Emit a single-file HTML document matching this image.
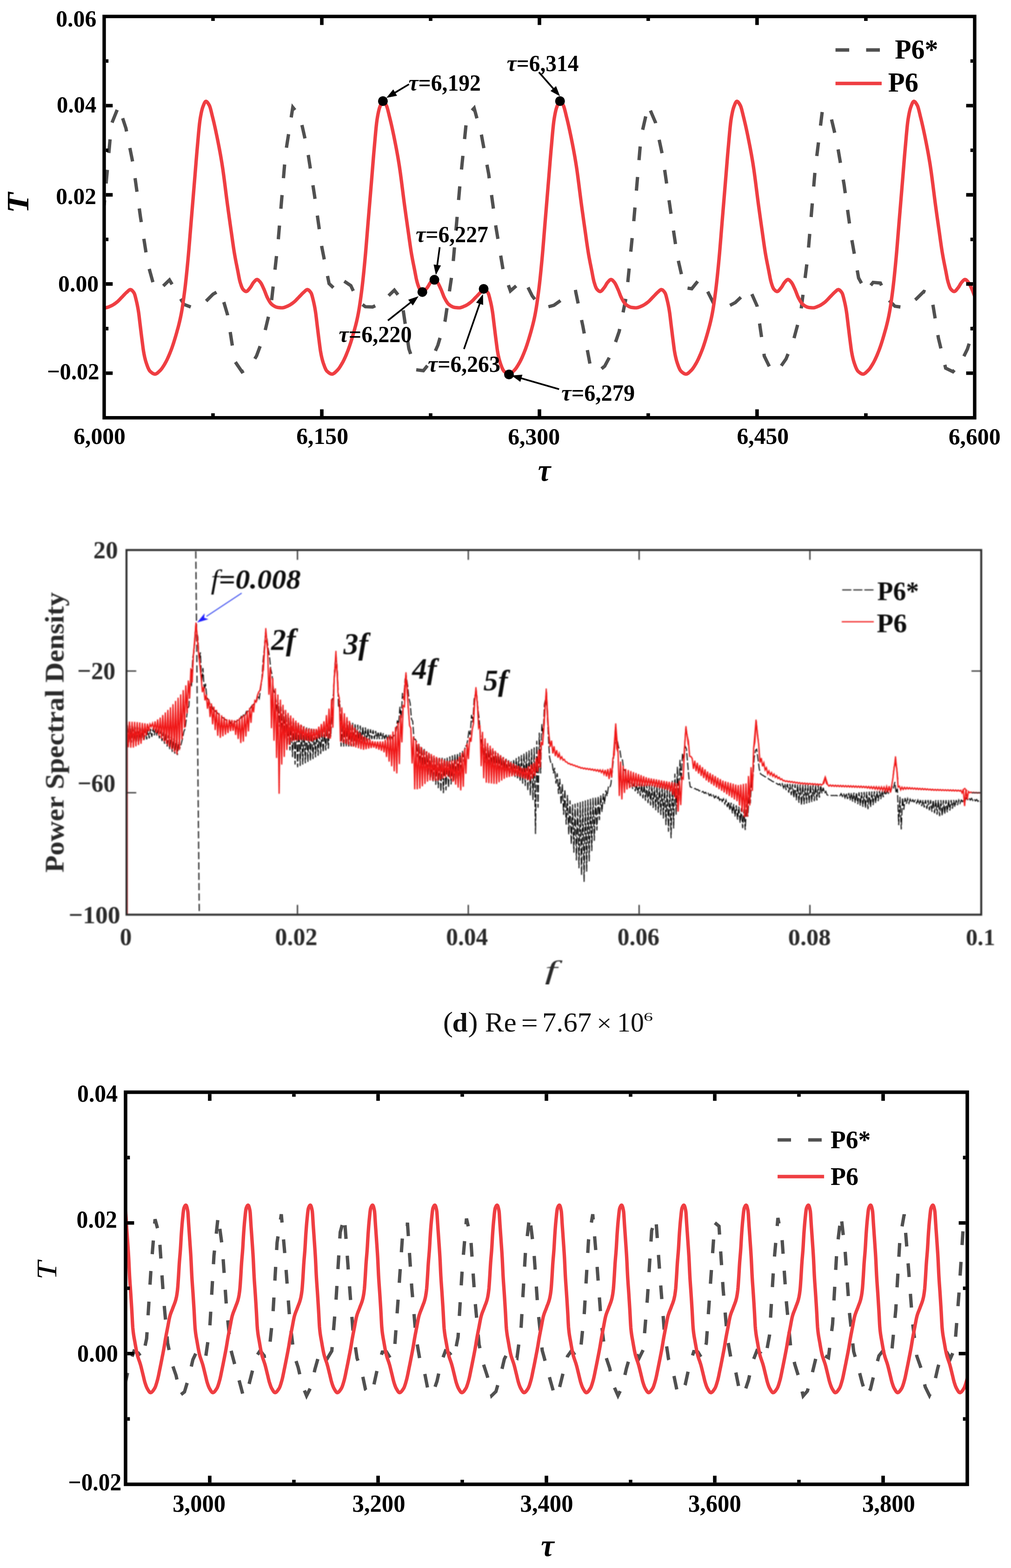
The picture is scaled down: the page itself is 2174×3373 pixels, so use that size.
<!DOCTYPE html>
<html><head><meta charset="utf-8"><style>
html,body{margin:0;padding:0;background:#fff;}
svg{display:block;}
text{font-family:'Liberation Serif','Times New Roman',serif;font-kerning:none;}
</style></head><body>
<svg width="2174" height="3373" viewBox="0 0 2174 3373">
<defs><filter id="blur1" x="0" y="0" width="1" height="1"><feGaussianBlur stdDeviation="0.9"/></filter></defs><rect width="2174" height="3373" fill="#fff"/>
<g id="p1">
<clipPath id="c1"><rect x="224" y="35.4" width="1871.9" height="863.3"/></clipPath>
<g clip-path="url(#c1)">
<path d="M224 441.5L239.6 267.1L255.2 228.2L270.8 276L286.4 353.9L302 466.4L317.6 566.5L333.2 623L348.8 617.3L364.4 602.2L380 628.4L395.6 654.9L411.2 660.7L426.8 658L442.4 648.5L458 632.9L473.6 623.9L489.2 676.7L504.8 776.9L520.4 799.7L536 791.5L551.6 765.7L567.2 723.5L582.8 657.9L598.4 515.6L614 330.1L629.6 230.9L645.2 250.7L660.8 320.1L676.4 421L692 531.3L707.6 610L723.2 624.8L738.8 604.1L754.4 614.4L770 647.9L785.6 659.8L801.2 660.3L816.8 653.1L832.4 639.2L848 624.2L863.6 644L879.2 750.1L894.8 795.5L910.4 797.4L926 777.8L941.6 742.6L957.2 689.6L972.8 583.6L988.4 404.1L1004 249.7L1019.6 232.6L1035.2 290.1L1050.8 374.2L1066.4 488.3L1082 581.9L1097.6 625.7L1113.2 612.1L1128.8 605L1144.4 636.4L1159.9 657L1175.5 660.9L1191.1 656.6L1206.7 645.6L1222.3 629.8L1237.9 627.2L1253.5 702.3L1269.1 785.5L1284.7 800.4L1300.3 787.6L1315.9 758.6L1331.5 712.8L1347.1 636.4L1362.7 477.5L1378.3 295.4L1393.9 226.7L1409.5 263.4L1425.1 336.6L1440.7 444.8L1456.3 550.6L1471.9 618.7L1487.5 621.1L1503.1 601.7L1518.7 621.2L1534.3 652.3L1549.9 660.4L1565.5 659.2L1581.1 650.8L1596.7 636.1L1612.3 622.7L1627.9 657.9L1643.5 766.1L1659.1 798L1674.7 794.5L1690.3 772L1705.9 733.2L1721.5 675.3L1737.1 551.2L1752.7 366.3L1768.3 238.3L1783.9 239.4L1799.5 305L1815.1 397.4L1830.7 510.1L1846.3 598.1L1861.9 626.6L1877.5 607.4L1893.1 608.8L1908.7 642.7L1924.3 658.7L1939.9 660.9L1955.5 655L1971.1 642.4L1986.7 627L2002.3 632.7L2017.9 727.3L2033.5 792.1L2049.1 799.6L2064.7 782.8L2080.3 750.8L2095.9 701.6L2095.9 701.6" fill="none" stroke="#505050" stroke-width="7.2" stroke-dasharray="29.5 36.4" stroke-dashoffset="19"/>
<path d="M224 662.1L225 662.1L226 662.1L227 662.1L228 661.9L229 661.7L230 661.5L231 661.2L232 660.9L233 660.5L234 660.1L235 659.7L236 659.2L237 658.8L238 658.4L239 657.9L240 657.5L241 657L242 656.4L243 655.8L244 655.2L245 654.6L246 653.9L247 653.2L248 652.5L249 651.8L250 651L251 650.2L252 649.4L253 648.6L254 647.6L255 646.7L256 645.6L257 644.6L258 643.6L259 642.5L260 641.4L261 640.4L262 639.3L263 638.3L264 637.3L265 636.2L266 635.2L267 634.1L268 633.1L269 632L270 631L271 630L272 629.1L273 628.3L274 627.3L275 626.4L276 625.4L277 624.6L278 623.8L279 623.3L280 623L281 623.1L282 623.4L283 624L284 624.8L285 625.8L286 627L287 628.3L288 629.7L289 631.6L290 634.5L291 638.1L292 642.1L293 646.1L294 650.3L295 654.9L296 659.9L297 665.4L298 671.6L299 679.1L300 687.4L301 695.9L302 704L303 712.2L304 720.4L305 728.3L306 736L307 743.9L308 751.4L309 757.8L310 763.1L311 767.8L312 772L313 775.8L314 779.2L315 782.2L316 785L317 787.7L318 790.3L319 792.7L320 794.7L321 796.5L322 797.9L323 798.9L324 799.8L325 800.6L326 801.5L327 802.2L328 802.9L329 803.5L330 803.9L331 804.3L332 804.6L333 804.7L334 804.7L335 804.4L336 804L337 803.5L338 802.8L339 802L340 801.1L341 800.2L342 799.2L343 798.3L344 797.3L345 796.3L346 795.2L347 794L348 792.7L349 791.3L350 789.8L351 788.3L352 786.7L353 785.1L354 783.4L355 781.6L356 779.9L357 778L358 776.1L359 774.1L360 772L361 769.8L362 767.6L363 765.3L364 762.9L365 760.5L366 758L367 755.5L368 752.9L369 750.2L370 747.4L371 744.6L372 741.6L373 738.5L374 735.4L375 732.2L376 728.9L377 725.6L378 722.2L379 718.7L380 715.2L381 711.6L382 708L383 704.4L384 700.6L385 696.6L386 692.5L387 688.2L388 683.6L389 678.8L390 673.7L391 668.1L392 662L393 655.6L394 648.8L395 641.6L396 634.2L397 626.6L398 618.6L399 610L400 600.9L401 591.4L402 581.6L403 571.4L404 561L405 550.1L406 538.6L407 526.7L408 514.4L409 502L410 489.6L411 477.4L412 465.4L413 453.3L414 441.3L415 429.2L416 417.1L417 405L418 393L419 380.9L420 368.5L421 356.1L422 343.7L423 331.7L424 320.2L425 309.1L426 297.7L427 286.5L428 276L429 266.5L430 258.6L431 252.4L432 246.8L433 241.8L434 237.4L435 233.6L436 230.5L437 227.9L438 225.3L439 222.9L440 220.9L441 219.3L442 218.3L443 218L444 218.3L445 219.1L446 220.1L447 221.5L448 223L449 224.6L450 226.4L451 228.6L452 231.6L453 235.1L454 239L455 243.1L456 247.3L457 251.4L458 255.4L459 259.5L460 263.7L461 268L462 272.5L463 277L464 281.6L465 286.4L466 291.2L467 296L468 301L469 306L470 311.1L471 316.2L472 321.5L473 326.9L474 332.4L475 338.1L476 344L477 350L478 356.3L479 362.9L480 369.9L481 377.2L482 384.7L483 392.5L484 400.3L485 408.3L486 416.2L487 424L488 431.8L489 439.3L490 446.6L491 453.9L492 461.1L493 468.2L494 475.3L495 482.4L496 489.4L497 496.4L498 503.5L499 510.6L500 517.8L501 524.8L502 531.7L503 538.2L504 544.4L505 550.2L506 555.7L507 561L508 566.1L509 571.1L510 576L511 581L512 586.1L513 591.5L514 596.7L515 601.6L516 605.7L517 609L518 612.3L519 615.2L520 617.8L521 620L522 621.6L523 622.8L524 623.8L525 624.8L526 625.6L527 626.3L528 626.7L529 627L530 626.9L531 626.5L532 625.9L533 624.9L534 623.8L535 622.6L536 621.4L537 620.1L538 618.9L539 617.5L540 616L541 614.3L542 612.5L543 610.8L544 609.2L545 607.8L546 606.7L547 605.6L548 604.5L549 603.4L550 602.5L551 601.8L552 601.4L553 601.3L554 601.6L555 602.2L556 603L557 604L558 605L559 606.2L560 607.4L561 608.7L562 610.4L563 612.3L564 614.3L565 616.5L566 618.7L567 620.9L568 623.1L569 625.5L570 628.1L571 630.7L572 633.4L573 635.9L574 638.3L575 640.4L576 642.3L577 644.1L578 645.9L579 647.6L580 649.3L581 650.8L582 652.2L583 653.4L584 654.4L585 655.2L586 656L587 656.7L588 657.4L589 658L590 658.6L591 659.2L592 659.7L593 660.1L594 660.5L595 660.8L596 661.1L597 661.3L598 661.4L599 661.6L600 661.7L601 661.8L602 661.9L603 662L604 662L605 662.1L606 662.1L607 662.1L608 662L609 661.9L610 661.6L611 661.4L612 661.1L613 660.7L614 660.3L615 659.9L616 659.5L617 659.1L618 658.6L619 658.2L620 657.8L621 657.3L622 656.8L623 656.2L624 655.6L625 655L626 654.3L627 653.6L628 652.9L629 652.2L630 651.5L631 650.7L632 649.9L633 649.1L634 648.2L635 647.2L636 646.3L637 645.2L638 644.2L639 643.1L640 642.1L641 641L642 640L643 638.9L644 637.9L645 636.9L646 635.8L647 634.8L648 633.7L649 632.6L650 631.6L651 630.6L652 629.7L653 628.8L654 627.9L655 627L656 626L657 625.1L658 624.3L659 623.6L660 623.2L661 623L662 623.1L663 623.6L664 624.3L665 625.1L666 626.2L667 627.5L668 628.8L669 630.3L670 632.6L671 635.8L672 639.6L673 643.7L674 647.7L675 652.1L676 656.8L677 662L678 667.8L679 674.4L680 682.3L681 690.8L682 699.2L683 707.3L684 715.5L685 723.6L686 731.4L687 739.2L688 747L689 754.1L690 760L691 765L692 769.5L693 773.6L694 777.2L695 780.4L696 783.3L697 786.1L698 788.8L699 791.3L700 793.5L701 795.5L702 797.1L703 798.3L704 799.2L705 800.1L706 801L707 801.8L708 802.5L709 803.1L710 803.7L711 804.1L712 804.4L713 804.6L714 804.7L715 804.6L716 804.3L717 803.8L718 803.2L719 802.5L720 801.7L721 800.8L722 799.8L723 798.8L724 797.9L725 796.9L726 795.9L727 794.7L728 793.5L729 792.2L730 790.7L731 789.2L732 787.7L733 786L734 784.4L735 782.7L736 781L737 779.2L738 777.3L739 775.3L740 773.3L741 771.1L742 769L743 766.7L744 764.4L745 762L746 759.5L747 757L748 754.5L749 751.9L750 749.1L751 746.3L752 743.4L753 740.4L754 737.3L755 734.1L756 730.9L757 727.6L758 724.2L759 720.8L760 717.3L761 713.8L762 710.2L763 706.6L764 702.9L765 699L766 695L767 690.8L768 686.4L769 681.7L770 676.8L771 671.5L772 665.7L773 659.5L774 652.9L775 646L776 638.7L777 631.2L778 623.4L779 615.2L780 606.4L781 597.2L782 587.5L783 577.5L784 567.2L785 556.7L786 545.6L787 533.9L788 521.8L789 509.5L790 497.1L791 484.7L792 472.6L793 460.6L794 448.5L795 436.5L796 424.4L797 412.3L798 400.2L799 388.1L800 376L801 363.5L802 351.1L803 338.9L804 327L805 315.8L806 304.5L807 293.2L808 282.2L809 272.1L810 263.2L811 256L812 250.1L813 244.7L814 240L815 235.8L816 232.3L817 229.5L818 226.9L819 224.3L820 222.1L821 220.2L822 218.8L823 218.1L824 218.1L825 218.6L826 219.4L827 220.6L828 222L829 223.6L830 225.3L831 227.2L832 229.7L833 232.9L834 236.6L835 240.6L836 244.7L837 248.9L838 253L839 257L840 261.2L841 265.4L842 269.8L843 274.3L844 278.9L845 283.5L846 288.3L847 293.1L848 298L849 303L850 308L851 313.1L852 318.3L853 323.6L854 329.1L855 334.7L856 340.4L857 346.4L858 352.5L859 358.9L860 365.7L861 372.8L862 380.2L863 387.8L864 395.6L865 403.5L866 411.4L867 419.3L868 427.1L869 434.8L870 442.3L871 449.5L872 456.8L873 463.9L874 471.1L875 478.1L876 485.2L877 492.2L878 499.2L879 506.3L880 513.5L881 520.6L882 527.6L883 534.3L884 540.7L885 546.8L886 552.4L887 557.8L888 563L889 568.1L890 573.1L891 578L892 583L893 588.2L894 593.6L895 598.8L896 603.3L897 607L898 610.4L899 613.5L900 616.3L901 618.8L902 620.7L903 622.1L904 623.2L905 624.2L906 625.1L907 625.9L908 626.5L909 626.9L910 627L911 626.8L912 626.3L913 625.5L914 624.5L915 623.4L916 622.1L917 620.9L918 619.6L919 618.4L920 616.9L921 615.3L922 613.6L923 611.8L924 610.2L925 608.6L926 607.3L927 606.2L928 605.1L929 604L930 603L931 602.2L932 601.6L933 601.3L934 601.4L935 601.8L936 602.5L937 603.3L938 604.4L939 605.5L940 606.7L941 607.9L942 609.4L943 611.1L944 613.1L945 615.2L946 617.4L947 619.6L948 621.8L949 624L950 626.5L951 629.1L952 631.8L953 634.4L954 636.9L955 639.2L956 641.2L957 643L958 644.9L959 646.6L960 648.3L961 649.9L962 651.4L963 652.7L964 653.8L965 654.8L966 655.5L967 656.3L968 657L969 657.7L970 658.3L971 658.9L972 659.4L973 659.9L974 660.3L975 660.7L976 661L977 661.2L978 661.3L979 661.5L980 661.6L981 661.7L982 661.8L983 661.9L984 662L985 662L986 662.1L987 662.1L988 662.1L989 662L990 661.8L991 661.5L992 661.3L993 660.9L994 660.6L995 660.2L996 659.7L997 659.3L998 658.9L999 658.5L1000 658L1001 657.6L1002 657.1L1003 656.5L1004 656L1005 655.4L1006 654.7L1007 654.1L1008 653.4L1009 652.6L1010 651.9L1011 651.2L1012 650.4L1013 649.6L1014 648.7L1015 647.8L1016 646.9L1017 645.9L1018 644.8L1019 643.8L1020 642.7L1021 641.6L1022 640.6L1023 639.5L1024 638.5L1025 637.5L1026 636.5L1027 635.4L1028 634.3L1029 633.3L1030 632.2L1031 631.2L1032 630.2L1033 629.3L1034 628.4L1035 627.5L1036 626.6L1037 625.6L1038 624.7L1039 624L1040 623.4L1041 623.1L1042 623L1043 623.3L1044 623.8L1045 624.6L1046 625.6L1047 626.7L1048 628L1049 629.4L1050 631.1L1051 633.8L1052 637.3L1053 641.2L1054 645.3L1055 649.4L1056 653.9L1057 658.8L1058 664.3L1059 670.3L1060 677.5L1061 685.7L1062 694.2L1063 702.4L1064 710.6L1065 718.7L1066 726.8L1067 734.5L1068 742.3L1069 749.9L1070 756.7L1071 762.1L1072 766.9L1073 771.2L1074 775.1L1075 778.5L1076 781.6L1077 784.4L1078 787.2L1079 789.8L1080 792.2L1081 794.3L1082 796.2L1083 797.6L1084 798.7L1085 799.6L1086 800.5L1087 801.3L1088 802.1L1089 802.7L1090 803.3L1091 803.8L1092 804.2L1093 804.5L1094 804.7L1095 804.7L1096 804.5L1097 804.1L1098 803.6L1099 803L1100 802.2L1101 801.3L1102 800.4L1103 799.4L1104 798.5L1105 797.5L1106 796.5L1107 795.4L1108 794.3L1109 793L1110 791.6L1111 790.1L1112 788.6L1113 787L1114 785.4L1115 783.7L1116 782L1117 780.2L1118 778.4L1119 776.5L1120 774.5L1121 772.4L1122 770.3L1123 768.1L1124 765.8L1125 763.4L1126 761L1127 758.5L1128 756L1129 753.4L1130 750.8L1131 748L1132 745.1L1133 742.2L1134 739.2L1135 736L1136 732.9L1137 729.6L1138 726.3L1139 722.9L1140 719.4L1141 715.9L1142 712.4L1143 708.8L1144 705.1L1145 701.3L1146 697.4L1147 693.3L1148 689.1L1149 684.6L1150 679.8L1151 674.7L1152 669.2L1153 663.3L1154 656.9L1155 650.2L1156 643.1L1157 635.7L1158 628.1L1159 620.2L1160 611.7L1161 602.8L1162 593.4L1163 583.6L1164 573.4L1165 563.1L1166 552.3L1167 541L1168 529.1L1169 516.9L1170 504.5L1171 492.1L1172 479.8L1173 467.8L1174 455.8L1175 443.7L1176 431.6L1177 419.5L1178 407.5L1179 395.4L1180 383.3L1181 371L1182 358.6L1183 346.2L1184 334.1L1185 322.5L1186 311.3L1187 300L1188 288.7L1189 278L1190 268.3L1191 260.1L1192 253.6L1193 247.9L1194 242.8L1195 238.2L1196 234.3L1197 231.1L1198 228.4L1199 225.8L1200 223.4L1201 221.2L1202 219.5L1203 218.4L1204 218L1205 218.2L1206 218.9L1207 219.9L1208 221.2L1209 222.7L1210 224.3L1211 226L1212 228.1L1213 231L1214 234.4L1215 238.2L1216 242.2L1217 246.4L1218 250.6L1219 254.6L1220 258.7L1221 262.9L1222 267.2L1223 271.6L1224 276.1L1225 280.7L1226 285.4L1227 290.2L1228 295.1L1229 300L1230 305L1231 310L1232 315.2L1233 320.4L1234 325.8L1235 331.3L1236 336.9L1237 342.8L1238 348.8L1239 355L1240 361.5L1241 368.5L1242 375.7L1243 383.2L1244 390.9L1245 398.8L1246 406.7L1247 414.6L1248 422.5L1249 430.2L1250 437.8L1251 445.2L1252 452.4L1253 459.6L1254 466.8L1255 473.9L1256 481L1257 488L1258 495L1259 502.1L1260 509.2L1261 516.4L1262 523.4L1263 530.3L1264 536.9L1265 543.2L1266 549.1L1267 554.6L1268 559.9L1269 565.1L1270 570.1L1271 575L1272 580L1273 585L1274 590.4L1275 595.7L1276 600.7L1277 604.9L1278 608.4L1279 611.6L1280 614.7L1281 617.4L1282 619.6L1283 621.4L1284 622.6L1285 623.6L1286 624.6L1287 625.5L1288 626.2L1289 626.7L1290 627L1291 627L1292 626.6L1293 626L1294 625.1L1295 624.1L1296 622.9L1297 621.6L1298 620.3L1299 619.1L1300 617.8L1301 616.3L1302 614.6L1303 612.9L1304 611.2L1305 609.5L1306 608.1L1307 606.9L1308 605.8L1309 604.7L1310 603.6L1311 602.7L1312 601.9L1313 601.5L1314 601.3L1315 601.5L1316 602L1317 602.8L1318 603.7L1319 604.8L1320 606L1321 607.1L1322 608.4L1323 610.1L1324 611.9L1325 613.9L1326 616.1L1327 618.3L1328 620.5L1329 622.7L1330 625L1331 627.5L1332 630.2L1333 632.8L1334 635.4L1335 637.8L1336 640L1337 641.9L1338 643.8L1339 645.6L1340 647.3L1341 649L1342 650.5L1343 651.9L1344 653.1L1345 654.2L1346 655.1L1347 655.8L1348 656.6L1349 657.3L1350 657.9L1351 658.5L1352 659.1L1353 659.6L1354 660L1355 660.4L1356 660.8L1357 661.1L1358 661.3L1359 661.4L1360 661.5L1361 661.7L1362 661.8L1363 661.9L1364 662L1365 662L1366 662.1L1367 662.1L1368 662.1L1369 662L1370 661.9L1371 661.7L1372 661.4L1373 661.1L1374 660.8L1375 660.4L1376 660L1377 659.6L1378 659.1L1379 658.7L1380 658.3L1381 657.9L1382 657.4L1383 656.9L1384 656.3L1385 655.7L1386 655.1L1387 654.5L1388 653.8L1389 653.1L1390 652.4L1391 651.6L1392 650.9L1393 650.1L1394 649.3L1395 648.4L1396 647.4L1397 646.5L1398 645.4L1399 644.4L1400 643.4L1401 642.3L1402 641.2L1403 640.2L1404 639.1L1405 638.1L1406 637.1L1407 636L1408 635L1409 633.9L1410 632.8L1411 631.8L1412 630.8L1413 629.8L1414 628.9L1415 628.1L1416 627.1L1417 626.2L1418 625.3L1419 624.4L1420 623.7L1421 623.2L1422 623L1423 623.1L1424 623.5L1425 624.1L1426 625L1427 626L1428 627.2L1429 628.6L1430 630L1431 632.1L1432 635.1L1433 638.8L1434 642.9L1435 646.9L1436 651.2L1437 655.8L1438 661L1439 666.6L1440 673L1441 680.7L1442 689.1L1443 697.6L1444 705.7L1445 713.8L1446 722L1447 729.9L1448 737.6L1449 745.5L1450 752.8L1451 759L1452 764L1453 768.6L1454 772.8L1455 776.5L1456 779.8L1457 782.7L1458 785.6L1459 788.3L1460 790.8L1461 793.1L1462 795.1L1463 796.8L1464 798.1L1465 799.1L1466 800L1467 800.8L1468 801.6L1469 802.3L1470 803L1471 803.6L1472 804L1473 804.4L1474 804.6L1475 804.7L1476 804.6L1477 804.4L1478 803.9L1479 803.4L1480 802.7L1481 801.8L1482 801L1483 800L1484 799L1485 798.1L1486 797.1L1487 796.1L1488 795L1489 793.8L1490 792.4L1491 791L1492 789.5L1493 788L1494 786.4L1495 784.7L1496 783L1497 781.3L1498 779.5L1499 777.7L1500 775.7L1501 773.7L1502 771.6L1503 769.4L1504 767.1L1505 764.8L1506 762.5L1507 760L1508 757.5L1509 755L1510 752.4L1511 749.7L1512 746.9L1513 744L1514 741L1515 737.9L1516 734.8L1517 731.6L1518 728.3L1519 724.9L1520 721.5L1521 718L1522 714.5L1523 710.9L1524 707.3L1525 703.6L1526 699.8L1527 695.8L1528 691.7L1529 687.3L1530 682.7L1531 677.8L1532 672.6L1533 666.9L1534 660.8L1535 654.2L1536 647.4L1537 640.2L1538 632.7L1539 625L1540 616.9L1541 608.2L1542 599.1L1543 589.5L1544 579.5L1545 569.3L1546 558.8L1547 547.9L1548 536.3L1549 524.3L1550 512L1551 499.5L1552 487.2L1553 475L1554 463L1555 450.9L1556 438.9L1557 426.8L1558 414.7L1559 402.6L1560 390.5L1561 378.4L1562 366L1563 353.6L1564 341.3L1565 329.3L1566 318L1567 306.8L1568 295.4L1569 284.4L1570 274L1571 264.8L1572 257.3L1573 251.2L1574 245.8L1575 240.9L1576 236.6L1577 233L1578 230L1579 227.4L1580 224.8L1581 222.5L1582 220.5L1583 219L1584 218.2L1585 218L1586 218.4L1587 219.2L1588 220.4L1589 221.7L1590 223.3L1591 225L1592 226.8L1593 229.2L1594 232.3L1595 235.8L1596 239.8L1597 243.9L1598 248.1L1599 252.2L1600 256.2L1601 260.3L1602 264.6L1603 268.9L1604 273.4L1605 277.9L1606 282.6L1607 287.3L1608 292.1L1609 297L1610 302L1611 307L1612 312.1L1613 317.3L1614 322.6L1615 328L1616 333.5L1617 339.3L1618 345.1L1619 351.2L1620 357.6L1621 364.3L1622 371.3L1623 378.7L1624 386.3L1625 394L1626 401.9L1627 409.8L1628 417.8L1629 425.6L1630 433.3L1631 440.8L1632 448.1L1633 455.3L1634 462.5L1635 469.6L1636 476.7L1637 483.8L1638 490.8L1639 497.8L1640 504.9L1641 512.1L1642 519.2L1643 526.2L1644 533L1645 539.5L1646 545.6L1647 551.3L1648 556.8L1649 562L1650 567.1L1651 572.1L1652 577L1653 582L1654 587.2L1655 592.5L1656 597.8L1657 602.5L1658 606.3L1659 609.7L1660 612.9L1661 615.8L1662 618.3L1663 620.4L1664 621.9L1665 623L1666 624L1667 625L1668 625.8L1669 626.4L1670 626.8L1671 627L1672 626.9L1673 626.4L1674 625.7L1675 624.7L1676 623.6L1677 622.4L1678 621.1L1679 619.8L1680 618.6L1681 617.2L1682 615.7L1683 613.9L1684 612.2L1685 610.5L1686 608.9L1687 607.6L1688 606.5L1689 605.3L1690 604.2L1691 603.2L1692 602.4L1693 601.7L1694 601.3L1695 601.3L1696 601.7L1697 602.3L1698 603.2L1699 604.2L1700 605.3L1701 606.4L1702 607.6L1703 609.1L1704 610.8L1705 612.7L1706 614.8L1707 616.9L1708 619.2L1709 621.4L1710 623.6L1711 626L1712 628.6L1713 631.2L1714 633.9L1715 636.4L1716 638.7L1717 640.8L1718 642.7L1719 644.5L1720 646.3L1721 648L1722 649.6L1723 651.1L1724 652.4L1725 653.6L1726 654.6L1727 655.4L1728 656.1L1729 656.8L1730 657.5L1731 658.2L1732 658.7L1733 659.3L1734 659.8L1735 660.2L1736 660.6L1737 660.9L1738 661.1L1739 661.3L1740 661.5L1741 661.6L1742 661.7L1743 661.8L1744 661.9L1745 662L1746 662L1747 662.1L1748 662.1L1749 662.1L1750 662L1751 661.8L1752 661.6L1753 661.3L1754 661L1755 660.6L1756 660.2L1757 659.8L1758 659.4L1759 659L1760 658.5L1761 658.1L1762 657.7L1763 657.2L1764 656.6L1765 656.1L1766 655.5L1767 654.8L1768 654.2L1769 653.5L1770 652.8L1771 652.1L1772 651.3L1773 650.6L1774 649.8L1775 648.9L1776 648L1777 647L1778 646.1L1779 645L1780 644L1781 642.9L1782 641.9L1783 640.8L1784 639.7L1785 638.7L1786 637.7L1787 636.7L1788 635.6L1789 634.5L1790 633.5L1791 632.4L1792 631.4L1793 630.4L1794 629.5L1795 628.6L1796 627.7L1797 626.8L1798 625.8L1799 624.9L1800 624.1L1801 623.5L1802 623.1L1803 623L1804 623.2L1805 623.7L1806 624.4L1807 625.4L1808 626.5L1809 627.7L1810 629.1L1811 630.7L1812 633.2L1813 636.6L1814 640.4L1815 644.5L1816 648.6L1817 653L1818 657.8L1819 663.1L1820 669L1821 675.9L1822 684L1823 692.5L1824 700.8L1825 708.9L1826 717.1L1827 725.2L1828 732.9L1829 740.8L1830 748.5L1831 755.4L1832 761.1L1833 765.9L1834 770.4L1835 774.3L1836 777.9L1837 781L1838 783.9L1839 786.7L1840 789.3L1841 791.7L1842 793.9L1843 795.8L1844 797.4L1845 798.5L1846 799.4L1847 800.3L1848 801.1L1849 801.9L1850 802.6L1851 803.2L1852 803.8L1853 804.2L1854 804.5L1855 804.7L1856 804.7L1857 804.6L1858 804.2L1859 803.7L1860 803.1L1861 802.3L1862 801.5L1863 800.6L1864 799.6L1865 798.7L1866 797.7L1867 796.7L1868 795.7L1869 794.5L1870 793.2L1871 791.9L1872 790.4L1873 788.9L1874 787.3L1875 785.7L1876 784L1877 782.3L1878 780.6L1879 778.8L1880 776.9L1881 774.9L1882 772.8L1883 770.7L1884 768.5L1885 766.2L1886 763.9L1887 761.5L1888 759L1889 756.5L1890 754L1891 751.3L1892 748.6L1893 745.7L1894 742.8L1895 739.8L1896 736.7L1897 733.5L1898 730.2L1899 726.9L1900 723.5L1901 720.1L1902 716.6L1903 713.1L1904 709.5L1905 705.9L1906 702.1L1907 698.2L1908 694.2L1909 689.9L1910 685.5L1911 680.8L1912 675.8L1913 670.4L1914 664.5L1915 658.2L1916 651.5L1917 644.5L1918 637.2L1919 629.7L1920 621.8L1921 613.5L1922 604.6L1923 595.3L1924 585.5L1925 575.5L1926 565.1L1927 554.5L1928 543.3L1929 531.5L1930 519.4L1931 507L1932 494.6L1933 482.3L1934 470.2L1935 458.2L1936 446.1L1937 434L1938 422L1939 409.9L1940 397.8L1941 385.7L1942 373.5L1943 361.1L1944 348.6L1945 336.4L1946 324.7L1947 313.6L1948 302.2L1949 290.9L1950 280.1L1951 270.2L1952 261.6L1953 254.8L1954 249L1955 243.7L1956 239.1L1957 235.1L1958 231.7L1959 229L1960 226.3L1961 223.9L1962 221.6L1963 219.8L1964 218.6L1965 218L1966 218.2L1967 218.7L1968 219.7L1969 220.9L1970 222.3L1971 224L1972 225.7L1973 227.6L1974 230.3L1975 233.6L1976 237.4L1977 241.4L1978 245.6L1979 249.8L1980 253.8L1981 257.8L1982 262L1983 266.3L1984 270.7L1985 275.2L1986 279.8L1987 284.5L1988 289.2L1989 294.1L1990 299L1991 304L1992 309L1993 314.2L1994 319.4L1995 324.7L1996 330.2L1997 335.8L1998 341.6L1999 347.6L2000 353.7L2001 360.2L2002 367.1L2003 374.2L2004 381.7L2005 389.4L2006 397.2L2007 405.1L2008 413L2009 420.9L2010 428.7L2011 436.3L2012 443.7L2013 451L2014 458.2L2015 465.4L2016 472.5L2017 479.6L2018 486.6L2019 493.6L2020 500.6L2021 507.8L2022 514.9L2023 522L2024 529L2025 535.6L2026 542L2027 547.9L2028 553.5L2029 558.9L2030 564L2031 569.1L2032 574L2033 579L2034 584L2035 589.3L2036 594.7L2037 599.7L2038 604.1L2039 607.7L2040 611L2041 614.1L2042 616.9L2043 619.2L2044 621.1L2045 622.3L2046 623.4L2047 624.4L2048 625.3L2049 626L2050 626.6L2051 626.9L2052 627L2053 626.7L2054 626.2L2055 625.3L2056 624.3L2057 623.1L2058 621.9L2059 620.6L2060 619.4L2061 618.1L2062 616.6L2063 615L2064 613.2L2065 611.5L2066 609.8L2067 608.4L2068 607.1L2069 606L2070 604.9L2071 603.8L2072 602.9L2073 602.1L2074 601.5L2075 601.3L2076 601.4L2077 601.9L2078 602.6L2079 603.5L2080 604.6L2081 605.7L2082 606.9L2083 608.2L2084 609.7L2085 611.5L2086 613.5L2087 615.6L2088 617.8L2089 620L2090 622.2L2091 624.5L2092 627L2093 629.7L2094 632.3L2095 634.9L2095.9 637.1" fill="none" stroke="#ef3e42" stroke-width="7.4" stroke-linejoin="round"/>
</g>
<rect x="224" y="35.4" width="1871.9" height="863.3" fill="none" stroke="#000" stroke-width="7.4"/>
<path d="M227.7 802.8h14.6M2092.2 802.8h-14.6M227.7 706.9h5.5M2092.2 706.9h-5.5M227.7 610.9h14.6M2092.2 610.9h-14.6M227.7 515h5.5M2092.2 515h-5.5M227.7 419.1h14.6M2092.2 419.1h-14.6M227.7 323.2h5.5M2092.2 323.2h-5.5M227.7 227.2h14.6M2092.2 227.2h-14.6M227.7 131.3h5.5M2092.2 131.3h-5.5M458 895v-6M458 39.1v6M692 895v-14.6M692 39.1v14.6M926 895v-6M926 39.1v6M1160 895v-14.6M1160 39.1v14.6M1393.9 895v-6M1393.9 39.1v6M1627.9 895v-14.6M1627.9 39.1v14.6M1861.9 895v-6M1861.9 39.1v6" stroke="#000" stroke-width="7.6" fill="none"/>
<text transform="translate(120.2 56.8) scale(0.98 1)" font-size="50.83" fill="#000" ><tspan x="0" font-weight="bold" font-style="normal">0.06</tspan></text>
<text transform="translate(122.04 242.3) scale(0.95 1)" font-size="51.27" fill="#000" ><tspan x="0" font-weight="bold" font-style="normal">0.04</tspan></text>
<text transform="translate(120.21 439) scale(0.97 1)" font-size="51.13" fill="#000" ><tspan x="0" font-weight="bold" font-style="normal">0.02</tspan></text>
<text transform="translate(125.11 627.2) scale(0.98 1)" font-size="50.83" fill="#000" ><tspan x="0" font-weight="bold" font-style="normal">0.00</tspan></text>
<text transform="translate(100.93 816.3) scale(0.95 1)" font-size="51.13" fill="#000" ><tspan x="0" font-weight="bold" font-style="normal">−0.02</tspan></text>
<text transform="translate(158.21 955.31) scale(0.98 1)" font-size="50.68" fill="#000" ><tspan x="0" font-weight="bold" font-style="normal">6,000</tspan></text>
<text transform="translate(637.3 955.31) scale(0.98 1)" font-size="50.68" fill="#000" ><tspan x="0" font-weight="bold" font-style="normal">6,150</tspan></text>
<text transform="translate(1092.3 955.51) scale(0.98 1)" font-size="50.68" fill="#000" ><tspan x="0" font-weight="bold" font-style="normal">6,300</tspan></text>
<text transform="translate(1584.4 955.31) scale(0.98 1)" font-size="50.68" fill="#000" ><tspan x="0" font-weight="bold" font-style="normal">6,450</tspan></text>
<text transform="translate(2039.8 955.51) scale(0.98 1)" font-size="50.68" fill="#000" ><tspan x="0" font-weight="bold" font-style="normal">6,600</tspan></text>
<text transform="translate(1156.72 1034.24) scale(0.92 1)" font-size="67.63" fill="#000" ><tspan x="0" font-weight="bold" font-style="italic">τ</tspan></text>
<text transform="translate(61 458.82) rotate(-90) scale(1.09 1)" font-size="66.74" fill="#000" ><tspan x="0" font-weight="bold" font-style="italic">T</tspan></text>
<path d="M1796.6 107.4h29.5M1862.5 107.4h29.5" stroke="#505050" stroke-width="7.5"/>
<path d="M1796.6 179.5H1895.9" stroke="#ef3e42" stroke-width="7.3"/>
<text transform="translate(1924.31 125.65) scale(0.97 1)" font-size="59.56" fill="#000" ><tspan x="0" font-weight="bold" font-style="normal">P6*</tspan></text>
<text transform="translate(1909.79 197.4) scale(1 1)" font-size="58.65" fill="#000" ><tspan x="0" font-weight="bold" font-style="normal">P6</tspan></text>
<circle cx="823.4" cy="217.5" r="10.5" fill="#000"/>
<circle cx="1204.2" cy="217.5" r="10.5" fill="#000"/>
<circle cx="908.2" cy="628.2" r="10.5" fill="#000"/>
<circle cx="934.1" cy="601.8" r="10.5" fill="#000"/>
<circle cx="1040" cy="621.4" r="10.5" fill="#000"/>
<circle cx="1094.5" cy="805.5" r="10.5" fill="#000"/>
<path d="M879.5 181.2L848 200.1" stroke="#000" stroke-width="3.6"/>
<path d="M830.8 210.4L845.6 192.2L853.8 205.9Z" fill="#000"/>
<path d="M1158.8 155.2L1191 192" stroke="#000" stroke-width="3.6"/>
<path d="M1204.2 207.1L1183.7 195.8L1195.7 185.3Z" fill="#000"/>
<path d="M945.5 531.8L940 572" stroke="#000" stroke-width="3.6"/>
<path d="M937.3 591.8L932.4 568.9L948.2 571.1Z" fill="#000"/>
<path d="M834.1 689.5L884.3 649.7" stroke="#000" stroke-width="3.6"/>
<path d="M900 637.3L887.7 657.2L877.8 644.7Z" fill="#000"/>
<path d="M997.7 750.9L1032.1 651.6" stroke="#000" stroke-width="3.6"/>
<path d="M1038.6 632.7L1039 656.1L1023.8 650.9Z" fill="#000"/>
<path d="M1202.3 837.3L1119.2 813.3" stroke="#000" stroke-width="3.6"/>
<path d="M1100 807.7L1123.4 806.1L1118.9 821.5Z" fill="#000"/>
<text transform="translate(878.42 195.3) scale(0.93 1)" font-size="51.2" fill="#000" ><tspan x="0" font-weight="bold" font-style="italic">τ</tspan><tspan x="22.73" font-weight="bold" font-style="normal">=6,192</tspan></text>
<text transform="translate(1089.83 152.5) scale(0.93 1)" font-size="50.9" fill="#000" ><tspan x="0" font-weight="bold" font-style="italic">τ</tspan><tspan x="22.59" font-weight="bold" font-style="normal">=6,314</tspan></text>
<text transform="translate(893.92 520.6) scale(0.94 1)" font-size="50.9" fill="#000" ><tspan x="0" font-weight="bold" font-style="italic">τ</tspan><tspan x="22.59" font-weight="bold" font-style="normal">=6,227</tspan></text>
<text transform="translate(728.41 735.61) scale(0.95 1)" font-size="50.68" fill="#000" ><tspan x="0" font-weight="bold" font-style="italic">τ</tspan><tspan x="22.49" font-weight="bold" font-style="normal">=6,220</tspan></text>
<text transform="translate(920.02 800) scale(0.93 1)" font-size="51.35" fill="#000" ><tspan x="0" font-weight="bold" font-style="italic">τ</tspan><tspan x="22.79" font-weight="bold" font-style="normal">=6,263</tspan></text>
<text transform="translate(1207.31 861.7) scale(0.95 1)" font-size="50.9" fill="#000" ><tspan x="0" font-weight="bold" font-style="italic">τ</tspan><tspan x="22.59" font-weight="bold" font-style="normal">=6,279</tspan></text>
</g>
<g id="p2" filter="url(#blur1)">
<clipPath id="c2"><rect x="272" y="1183.2" width="1838" height="784.4"/></clipPath>
<path d="M421 1186L428.5 1966" stroke="#333" stroke-width="2.8" stroke-dasharray="15.5 6.8"/>
<g clip-path="url(#c2)">
<path d="M274.2 1560.3L276.9 1599L279.7 1561.4L282.4 1597.8L285.2 1562.5L287.9 1596.6L290.7 1563.6L293.4 1595.4L296.2 1564.7L298.9 1594.2L301.7 1565.8L304.4 1593L307.2 1566.9L309.9 1591.8L312.7 1568L315.4 1590.6L318.2 1569L320.9 1588.3L323.7 1567.7L326.4 1585L329.2 1566.4L331.9 1581.8L334.7 1565.1L337.4 1582.6L340.2 1568.1L342.9 1588.4L345.7 1571.4L348.4 1594.2L351.2 1574.7L353.9 1600L356.7 1578L359.4 1605.8L362.2 1581.5L364.9 1611.6L367.7 1585.1L370.4 1617.4L373.2 1588.8L375.9 1621.2L378.7 1592.5L381.4 1624.2L384.2 1596.1L386.9 1609.9L389.7 1599.8L392.4 1588.9L395.2 1574L397.9 1567.8L400.7 1546.5L403.4 1525.3L406.2 1519L408.9 1470.1L411.7 1476.9L414.4 1414.8L417.2 1402.1L419.9 1359.6L422.7 1359.3L425.4 1369.8L428.2 1420.1L430.9 1403.4L433.7 1467.8L436.4 1437.1L439.2 1486.5L441.9 1470.7L444.7 1500.6L447.4 1504.4L450.2 1509.9L452.9 1522.4L455.7 1518.9L458.4 1526.8L461.2 1525.8L463.9 1531.2L466.7 1532.6L469.4 1535.6L472.2 1538.9L474.9 1540L477.7 1543L480.4 1544.4L483.2 1547.2L485.9 1548.8L488.7 1550.3L491.4 1553.2L494.2 1551.1L496.9 1557.6L499.7 1551.9L502.4 1557.5L505.2 1552.7L507.9 1552L510.7 1550.5L513.5 1546.5L516.2 1546.7L519 1541L521.7 1542.9L524.5 1535.5L527.2 1538.4L530 1530L532.7 1531.3L535.5 1524.5L538.2 1524.1L541 1519L543.7 1517L546.5 1513.5L549.2 1507.4L552 1508L554.7 1496L557.5 1502.5L560.2 1482.7L563 1462.8L565.7 1420.6L568.5 1393.5L571.2 1358.4L574 1372.6L576.7 1395.8L579.5 1412.2L582.2 1438.9L585 1451.7L587.7 1482L590.5 1491.3L593.2 1504.5L596 1530.9L598.7 1512.3L601.5 1563.3L604.2 1520.1L607 1576L609.7 1527.9L612.5 1588.7L615.2 1535.7L618 1601.4L620.7 1543.5L623.5 1614.1L626.2 1551.1L629 1628.6L631.7 1553.3L634.5 1644.6L637.2 1555.6L640 1650.5L642.7 1557.9L645.5 1647.6L648.2 1560.1L651 1644.8L653.7 1562.4L656.5 1642L659.2 1564.7L662 1639.1L664.7 1566.2L667.5 1636.3L670.2 1567.5L673 1633L675.7 1568.9L678.5 1629.3L681.2 1570.3L684 1625.6L686.7 1571.7L689.5 1621.9L692.2 1572.9L695 1618.2L697.7 1568.9L700.5 1614.4L703.2 1564.9L706 1610.7L708.7 1560.9L711.5 1584.1L714.2 1507.1L717 1493.3L719.7 1437.8L722.5 1408.1L725.2 1440.4L728 1522.1L730.7 1507.5L733.5 1606L736.2 1559.2L739 1606L741.7 1555.4L744.5 1606L747.2 1551.6L750 1606L752.7 1552.7L755.5 1606L758.2 1554.7L761 1605.2L763.7 1556.7L766.5 1603.1L769.2 1558.7L772 1600.9L774.7 1560.8L777.5 1598.8L780.2 1562.8L783 1596.7L785.7 1564.8L788.5 1594.5L791.2 1566.8L794 1592.4L796.7 1568.8L799.5 1590.2L802.2 1570.7L805 1590L807.7 1572.3L810.5 1590L813.2 1573.9L816 1590L818.7 1575.6L821.5 1590L824.2 1577.2L827 1590L829.7 1578.8L832.5 1590L835.2 1580.5L838 1590L840.7 1582.1L843.5 1590L846.2 1583.8L849 1579.5L851.7 1572.5L854.5 1549.9L857.2 1559.1L860 1520.3L862.7 1545.6L865.5 1490.7L868.2 1504L871 1461L873.7 1455.8L876.5 1474.3L879.2 1501.1L882 1513L884.7 1546.4L887.5 1551.7L890.2 1590.2L893 1590.4L895.7 1595.4L898.5 1629.1L901.2 1600.7L904 1645.2L906.7 1605.9L909.5 1652.4L912.2 1611.1L915 1659.5L917.7 1616.4L920.5 1666.7L923.2 1621.6L926 1673.9L928.7 1626.9L931.5 1681.1L934.2 1630L937 1688.3L939.7 1630L942.5 1695.5L945.2 1630L948 1702.7L950.7 1630L953.5 1706.3L956.2 1630L959 1700.1L961.7 1629.3L964.5 1693.8L967.2 1627.2L970 1687.5L972.7 1625.1L975.5 1681.2L978.2 1623L981 1674.9L983.7 1620.9L986.5 1668.6L989.2 1618.8L992 1662.3L994.7 1615.5L997.5 1638.9L1000.2 1604L1003 1605.2L1005.7 1592.5L1008.5 1571.5L1011.2 1581L1014 1537.9L1016.7 1554.2L1019.5 1504.2L1022.2 1493.3L1025 1494.9L1027.7 1524.5L1030.5 1548L1033.2 1581.4L1036 1601L1038.7 1602.2L1041.5 1640.6L1044.2 1605.5L1047 1642.9L1049.7 1608.9L1052.5 1645.2L1055.2 1612.2L1058 1647.5L1060.7 1615.5L1063.5 1649.8L1066.2 1618.8L1069 1652.1L1071.7 1622.1L1074.5 1654.4L1077.2 1625.5L1080 1656.6L1082.7 1628.8L1085.5 1658.9L1088.2 1632.1L1091 1661.2L1093.7 1635.4L1096.5 1663.5L1099.2 1637.3L1102 1666.7L1104.7 1634L1107.5 1671.4L1110.2 1630.7L1113 1676.2L1115.7 1627.4L1118.5 1680.9L1121.2 1624.2L1124 1685.6L1126.7 1620.9L1129.5 1690.8L1132.2 1617.6L1135 1700.9L1137.7 1614.3L1140.5 1710.9L1143.2 1611.1L1146 1720.9L1148.7 1607.8L1151.5 1793.9L1154.2 1593.6L1157 1737.4L1159.7 1576L1162.5 1663.9L1165.2 1557.5L1168 1582.9L1170.7 1515.1L1173.5 1501.9L1176.2 1520.5L1179 1581.5L1181.7 1628.5L1184.5 1641L1187.2 1640.2L1190 1663.4L1192.7 1651.8L1195.5 1685.7L1198.2 1663.5L1201 1708L1203.7 1675.2L1206.5 1730.4L1209.2 1686.9L1212 1752.7L1214.7 1698.5L1217.5 1774L1220.2 1710.2L1223 1795L1225.7 1721.9L1228.5 1816.1L1231.2 1730.6L1234 1834.1L1236.7 1728.8L1239.5 1850.9L1242.2 1727.1L1245 1867.8L1247.7 1725.3L1250.5 1882.6L1253.2 1723.5L1256 1896.9L1258.7 1721.7L1261.5 1875L1264.2 1720L1267 1852.9L1269.7 1718.2L1272.5 1830.7L1275.2 1716.4L1278 1808.6L1280.7 1714.6L1283.5 1786.4L1286.2 1712.8L1289 1764.2L1291.7 1711.1L1294.5 1746.3L1297.2 1707.2L1300 1729.3L1302.7 1700.3L1305.5 1712.4L1308.2 1693.3L1311 1695.4L1313.7 1686.4L1316.5 1660L1319.2 1630.9L1322 1601.7L1324.7 1583.1L1327.5 1593.1L1330.2 1607.8L1333 1613.9L1335.7 1632.4L1338.5 1634.8L1341.2 1657L1344 1655.7L1346.7 1681.7L1349.5 1676.5L1352.2 1683.5L1355 1691.8L1357.7 1684L1360.5 1696.9L1363.2 1684.5L1366 1702.1L1368.7 1685L1371.5 1707.2L1374.2 1685.6L1377 1712.3L1379.7 1686.1L1382.5 1717.4L1385.2 1686.6L1388 1722.5L1390.7 1687.1L1393.5 1727.6L1396.2 1687.6L1399 1732.8L1401.7 1688.2L1404.5 1737.9L1407.2 1688.7L1410 1743L1412.7 1689.2L1415.5 1748.1L1418.2 1689.8L1421 1753.2L1423.7 1690.3L1426.5 1760.7L1429.2 1690.8L1432 1774.9L1434.7 1691.4L1437.5 1789.1L1440.2 1691.9L1443 1803.3L1445.7 1679.3L1448.5 1782.1L1451.2 1664.4L1454 1752.5L1456.7 1649.5L1459.5 1723L1462.2 1634.6L1465 1680.4L1467.7 1619.8L1470.5 1636.4L1473.2 1604.9L1476 1610.9L1478.7 1642.6L1481.5 1674.2L1484.2 1692.4L1487 1693.8L1489.7 1694.4L1492.5 1696.3L1495.2 1696.4L1498 1698.9L1500.7 1698.4L1503.5 1701.4L1506.2 1700.4L1509 1703.9L1511.7 1702.4L1514.5 1706.4L1517.2 1704.3L1520 1708.9L1522.7 1706.3L1525.5 1711.5L1528.2 1708.3L1531 1714L1533.7 1710.3L1536.5 1716.5L1539.2 1712.3L1542 1719L1544.7 1714.3L1547.5 1721.5L1550.2 1716.3L1553 1724.1L1555.7 1718.4L1558.5 1729.2L1561.2 1721.2L1564 1736L1566.7 1724L1569.5 1742.8L1572.2 1726.8L1575 1749.6L1577.7 1729.6L1580.5 1756.3L1583.2 1732.4L1586 1763.1L1588.7 1735.2L1591.5 1769.9L1594.2 1738L1597 1781.4L1599.7 1740.8L1602.5 1785.4L1605.2 1730.1L1608 1756.8L1610.7 1714.6L1613.5 1728.1L1616.2 1672.6L1619 1675.7L1621.7 1630.6L1624.5 1614L1627.2 1611.6L1630 1632.8L1632.7 1654L1635.5 1664.9L1638.2 1666.6L1641 1668.2L1643.7 1670.1L1646.5 1671.5L1649.2 1673.6L1652 1674.8L1654.7 1677L1657.5 1678.2L1660.2 1680.5L1663 1681.5L1665.7 1683.9L1668.5 1684.8L1671.2 1686L1674 1688.1L1676.7 1686L1679.5 1691.4L1682.2 1686L1685 1694.8L1687.7 1686L1690.5 1699.5L1693.2 1686.2L1696 1705L1698.7 1686.4L1701.5 1710.5L1704.2 1686.7L1707 1716L1709.7 1686.9L1712.5 1721.5L1715.2 1687.1L1718 1727L1720.7 1687.3L1723.5 1731.9L1726.2 1687.5L1729 1730.2L1731.7 1687.7L1734.5 1728.5L1737.2 1687.9L1740 1726.8L1742.7 1688.1L1745.5 1725.1L1748.2 1688.3L1751 1723.5L1753.7 1688.5L1756.5 1721.8L1759.2 1688.7L1762 1716L1764.7 1689L1767.5 1706.6L1770.2 1694.4L1773 1706.5L1775.7 1702.2L1778.5 1710L1781.2 1711L1784 1711.1L1786.7 1711L1789.5 1711.3L1792.2 1711L1795 1711.5L1797.7 1711L1800.5 1711.7L1803.2 1709.9L1806 1711.9L1808.7 1707.2L1811.5 1713.2L1814.2 1706.6L1817 1716L1819.7 1706.3L1822.5 1718.8L1825.2 1705.9L1828 1721.6L1830.7 1705.5L1833.5 1724.4L1836.2 1705.2L1839 1727.2L1841.7 1704.8L1844.5 1730L1847.2 1704.4L1850 1732.8L1852.7 1704L1855.5 1735.6L1858.2 1703.7L1861 1738.4L1863.7 1703.3L1866.5 1740.6L1869.2 1702.9L1872 1736.3L1874.7 1702.5L1877.5 1732L1880.2 1702.2L1883 1727.7L1885.7 1701.8L1888.5 1723.4L1891.2 1701.4L1894 1719.1L1896.7 1701L1899.5 1714.8L1902.2 1700.7L1905 1710.5L1907.7 1700.3L1910.5 1706.2L1913.2 1698.2L1916 1700.7L1918.7 1690.2L1921.5 1694.7L1924.2 1682.2L1927 1705.7L1929.7 1696.4L1932.5 1774.9L1935.2 1714.3L1938 1784.3L1940.7 1715.5L1943.5 1741.9L1946.2 1716.7L1949 1729.1L1951.7 1717.9L1954.5 1727.8L1957.2 1719.1L1960 1726.4L1962.7 1720.3L1965.5 1725.1L1968.2 1721L1971 1727.8L1973.7 1721L1976.5 1730.9L1979.2 1721L1982 1734L1984.7 1721L1987.5 1737L1990.2 1721L1993 1740.1L1995.7 1721L1998.5 1743.2L2001.2 1721L2004 1746.3L2006.7 1721L2009.5 1749.4L2012.2 1721L2015 1752.5L2017.7 1721L2020.5 1755.6L2023.2 1721L2026 1754.9L2028.7 1721L2031.5 1751.1L2034.2 1721L2037 1747.3L2039.7 1721L2042.5 1743.5L2045.2 1721L2048 1739.6L2050.7 1721L2053.4 1735.8L2056.2 1721L2058.9 1732L2061.7 1721L2064.4 1728.2L2067.2 1721L2069.9 1724.6L2072.7 1719L2075.4 1722.1L2078.2 1716L2080.9 1720.2L2083.7 1715.9L2086.4 1721.1L2089.2 1717.2L2091.9 1722.1L2094.7 1718.5L2097.4 1723L2100.2 1719.9L2102.9 1724L2105.7 1721.2L2108.4 1724.9" fill="none" stroke="#000" stroke-width="2.2" stroke-dasharray="16 4.5"/>
<path d="M273 1552L275.8 1607.5L278.5 1552.3L281.2 1608.4L284 1552.6L286.8 1608.1L289.5 1552.8L292.2 1605.4L295 1553.4L297.8 1602.6L300.5 1554.2L303.2 1599.9L306 1555.1L308.8 1592.2L311.5 1555.9L314.2 1582.3L317 1556.8L319.8 1572.5L322.5 1557.6L325.2 1563.3L328 1555.8L330.8 1569.5L333.5 1551.7L336.2 1575.7L339 1547.7L341.8 1581.8L344.5 1543.5L347.2 1588L350 1538L352.8 1594.2L355.5 1532.5L358.2 1600.2L361 1527L363.8 1605.8L366.5 1521.5L369.2 1611.2L372 1514.7L374.8 1616.8L377.5 1507.8L380.2 1622.2L383 1500.8L385.8 1613.4L388.5 1493.9L391.2 1590.1L394 1484.5L396.8 1565.7L399.5 1474.2L402.2 1534L405 1463.9L407.8 1502.3L410.5 1437.2L413.2 1468L416 1407L418.8 1381L421.5 1340.2L424.2 1370.2L427 1405.2L429.8 1430.5L432.5 1457.8L435.2 1488.8L438 1477.6L440.8 1506.7L443.5 1494.5L446.2 1524.6L449 1503.8L451.8 1542.4L454.5 1513.2L457.2 1558.1L460 1520.2L462.8 1570.4L465.5 1527.1L468.2 1582.8L471 1534L473.8 1587.3L476.5 1538.5L479.2 1583.8L482 1542.9L484.8 1580.4L487.5 1547.1L490.2 1576.8L493 1547.9L495.8 1572.9L498.5 1548.7L501.2 1572L504 1549.5L506.8 1580.8L509.5 1548.3L512.2 1589.6L515 1544.5L517.8 1598.4L520.5 1540.8L523.2 1595.5L526 1537L528.8 1584.5L531.5 1529.8L534.2 1573.5L537 1522.7L539.8 1554.8L542.5 1515.5L545.2 1532.4L548 1507L550.8 1510.1L553.5 1496L556.2 1489L559 1485L561.8 1468.2L564.5 1454.1L567.2 1419.7L570 1380.7L572.8 1377.6L575.5 1397.5L578.2 1494.5L581 1436.4L583.8 1566.5L586.5 1458.7L589.2 1593.4L592 1480.9L594.8 1630.5L597.5 1494L600.2 1707.6L603 1505L605.8 1644.8L608.5 1516L611.2 1628.2L614 1527L616.8 1613.5L619.5 1533.5L622.2 1602.5L625 1539L627.8 1594.7L630.5 1544.5L633.2 1593.7L636 1550L638.8 1592.7L641.5 1554.5L644.2 1591.7L647 1558.7L649.8 1591.3L652.5 1563L655.2 1592.3L658 1567.2L660.8 1593.3L663.5 1568L666.2 1594.3L669 1568L671.8 1594.1L674.5 1568L677.2 1591.4L680 1568L682.8 1588.6L685.5 1563.2L688.2 1585.9L691 1557.4L693.8 1584.5L696.5 1551.5L699.2 1586L702 1538.3L704.8 1587.5L707.5 1524.3L710.2 1589L713 1503.9L715.8 1565.5L718.5 1460.9L721.2 1438.2L724 1428.6L726.8 1489.5L729.5 1501.5L732.2 1595.1L735 1521.7L737.8 1597.3L740.5 1534.2L743.2 1599.6L746 1542.5L748.8 1601.8L751.5 1550.8L754.2 1604.1L757 1559L759.8 1606.2L762.5 1565.5L765.2 1608L768 1571L770.8 1609.7L773.5 1576.5L776.2 1611.5L779 1582L781.8 1612.8L784.5 1585.8L787.2 1611.6L790 1588.5L792.8 1610.3L795.5 1591.2L798.2 1609.1L801 1594L803.8 1608.3L806.5 1595L809.2 1610.6L812 1595L814.8 1612.8L817.5 1595L820.2 1615.1L823 1595L825.8 1618.4L828.5 1591.5L831.2 1628.4L834 1586L836.8 1638.4L839.5 1580.5L842.2 1648.4L845 1573.5L847.8 1659.2L850.5 1564L853.2 1663.6L856 1554.5L858.8 1643.6L861.5 1538.2L864.2 1597L867 1518L869.8 1520.1L872.5 1452L875.2 1479.4L878 1523.9L880.8 1560.9L883.5 1566.5L886.2 1642.4L889 1584.7L891.8 1698L894.5 1593.4L897.2 1698L900 1599.9L902.8 1696.4L905.5 1606.5L908.2 1691.4L911 1613L913.8 1686.5L916.5 1616L919.2 1681.5L922 1619L924.8 1679L927.5 1622L930.2 1679L933 1625.1L935.8 1679L938.5 1628.1L941.2 1679L944 1630.8L946.8 1676.7L949.5 1632.9L952.2 1674.1L955 1635L957.8 1671.5L960.5 1637L963.2 1669.3L966 1637.4L968.8 1675.5L971.5 1636.4L974.2 1681.7L977 1635.3L979.8 1687.9L982.5 1634.3L985.2 1694.1L988 1628L990.8 1700.3L993.5 1619.8L996.2 1692.5L999 1611.5L1001.8 1664.5L1004.5 1599.5L1007.2 1632.8L1010 1586.7L1012.8 1595.5L1015.5 1569.2L1018.2 1556.2L1021 1505.7L1023.8 1483.3L1026.5 1514.2L1029.2 1565.8L1032 1560.1L1034.8 1648.2L1037.5 1574.2L1040.2 1674.2L1043 1588.3L1045.8 1683.6L1048.5 1598.5L1051.2 1684.8L1054 1604L1056.8 1685.5L1059.5 1609.5L1062.2 1686.3L1065 1615L1067.8 1686.5L1070.5 1619.8L1073.2 1682.8L1076 1624.3L1078.8 1679.2L1081.5 1628.7L1084.2 1675.5L1087 1633.2L1089.8 1672.6L1092.5 1636.6L1095.2 1671.3L1098 1639.7L1100.8 1670L1103.5 1642.9L1106.2 1668.7L1109 1646L1111.8 1669L1114.5 1648.2L1117.2 1670.9L1120 1650.4L1122.8 1672.9L1125.5 1652.6L1128.2 1674.8L1131 1652.7L1133.8 1676.8L1136.5 1649L1139.2 1678.7L1142 1645.3L1144.8 1674.2L1147.5 1641.7L1150.2 1668.6L1153 1630.8L1155.8 1659.7L1158.5 1613.8L1161.2 1650.8L1164 1595.8L1166.8 1603L1169.5 1566.6L1172.2 1520.9L1175 1488.3L1177.8 1549.3L1180.5 1581.1L1183.2 1606.5L1186 1593.2L1188.8 1620.8L1191.5 1605.4L1194.2 1626.5L1197 1613.7L1199.8 1629.8L1202.5 1621L1205.2 1632.6L1208 1628L1210.8 1635.4L1213.5 1633.5L1216.2 1639L1219 1639L1221.8 1642.8L1224.5 1642.2L1227.2 1644.9L1230 1644.1L1232.8 1646.8L1235.5 1646L1238.2 1648.8L1241 1647.9L1243.8 1650.8L1246.5 1649.8L1249.2 1652.7L1252 1651.3L1254.8 1653.8L1257.5 1652.1L1260.2 1654.7L1263 1652.9L1265.8 1655.6L1268.5 1653.6L1271.2 1656.5L1274 1654.4L1276.8 1657.5L1279.5 1655.1L1282.2 1658.6L1285 1655.7L1287.8 1659.9L1290.5 1656.2L1293.2 1661.9L1296 1656.7L1298.8 1665.7L1301.5 1656.2L1304.2 1670.2L1307 1654.3L1309.8 1675.8L1312.5 1652.5L1315.2 1671.7L1318 1630.7L1320.8 1624.2L1323.5 1564L1326.2 1610L1329 1617.7L1331.8 1712.2L1334.5 1638L1337.2 1719.7L1340 1647.7L1342.8 1705.7L1345.5 1654L1348.2 1698.3L1351 1656.3L1353.8 1695.3L1356.5 1658.5L1359.2 1692.4L1362 1660.8L1364.8 1691.8L1367.5 1663L1370.2 1691.5L1373 1665.2L1375.8 1691.2L1378.5 1667.5L1381.2 1690.9L1384 1669.7L1386.8 1690.7L1389.5 1672L1392.2 1690.4L1395 1673.6L1397.8 1690.1L1400.5 1674.6L1403.2 1690.8L1406 1675.6L1408.8 1692.2L1411.5 1676.6L1414.2 1693.6L1417 1677.6L1419.8 1694.9L1422.5 1678.6L1425.2 1696.3L1428 1679.6L1430.8 1697.7L1433.5 1680.6L1436.2 1699.1L1439 1681.6L1441.8 1702.3L1444.5 1682.9L1447.2 1709.7L1450 1684.2L1452.8 1717L1455.5 1685.6L1458.2 1746L1461 1680.2L1463.8 1731.9L1466.5 1672.2L1469.2 1675.4L1472 1608.3L1474.8 1566.9L1477.5 1582.3L1480.2 1593.8L1483 1627L1485.8 1627.2L1488.5 1631.7L1491.2 1654.1L1494 1636.3L1496.8 1659.1L1499.5 1641L1502.2 1664L1505 1645.6L1507.8 1669L1510.5 1650.3L1513.2 1673.9L1516 1654.9L1518.8 1678.9L1521.5 1659.6L1524.2 1682.8L1527 1663L1529.8 1686.5L1532.5 1666.2L1535.2 1690.2L1538 1669.5L1540.8 1693.8L1543.5 1672.8L1546.2 1697.5L1549 1676L1551.8 1701.2L1554.5 1679.2L1557.2 1704.9L1560 1680.8L1562.8 1708.6L1565.5 1682.5L1568.2 1712.3L1571 1684.2L1573.8 1716L1576.5 1685.8L1579.2 1719.8L1582 1687.5L1584.8 1723.5L1587.5 1688.9L1590.2 1733L1593 1687.7L1595.8 1746.5L1598.5 1686.4L1601.2 1757L1604 1685.2L1606.8 1757L1609.5 1669.4L1612.2 1732.8L1615 1650.4L1617.8 1701.4L1620.5 1610.1L1623.2 1596.4L1626 1550.8L1628.8 1581.8L1631.5 1601.8L1634.2 1640.4L1637 1630.6L1639.8 1648.5L1642.5 1641L1645.2 1656.5L1648 1651.4L1650.8 1664.6L1653.5 1658.5L1656.2 1667.3L1659 1661.9L1661.8 1669.8L1664.5 1665.2L1667.2 1672.2L1670 1668.6L1672.8 1674.7L1675.5 1672L1678.2 1677.1L1681 1675.3L1683.8 1679.6L1686.5 1678.7L1689.2 1681.3L1692 1679.7L1694.8 1682.1L1697.5 1680.5L1700.2 1682.8L1703 1681.2L1705.8 1683.6L1708.5 1682L1711.2 1684.4L1714 1682.8L1716.8 1685.1L1719.5 1683.5L1722.2 1685.9L1725 1684.1L1727.8 1686.3L1730.5 1684.5L1733.2 1686.7L1736 1684.8L1738.8 1687L1741.5 1685.2L1744.2 1687.4L1747 1685.6L1749.8 1687.7L1752.5 1685.9L1755.2 1688.1L1758 1686.3L1760.8 1688.5L1763.5 1686.6L1766.2 1688.8L1769 1687L1771.8 1684.6L1774.5 1671.3L1777.2 1685.4L1780 1688L1782.8 1691.1L1785.5 1688.4L1788.2 1691.4L1791 1688.8L1793.8 1691.6L1796.5 1689.1L1799.2 1691.8L1802 1689.3L1804.8 1692.1L1807.5 1689.5L1810.2 1692.3L1813 1689.7L1815.8 1692.6L1818.5 1689.9L1821.2 1692.8L1824 1690.1L1826.8 1693L1829.5 1690.3L1832.2 1693.3L1835 1690.5L1837.8 1693.5L1840.5 1690.7L1843.2 1693.8L1846 1690.9L1848.8 1694L1851.5 1691.1L1854.2 1694.2L1857 1691.4L1859.8 1694.5L1862.5 1691.6L1865.2 1695.2L1868 1691.8L1870.8 1696L1873.5 1692L1876.2 1696.7L1879 1692.2L1881.8 1697.5L1884.5 1692.4L1887.2 1698.2L1890 1692.6L1892.8 1699L1895.5 1692.8L1898.2 1699.8L1901 1693L1903.8 1701.2L1906.5 1692L1909.2 1703.1L1912 1691.1L1914.8 1704.9L1917.5 1690.1L1920.2 1673.1L1923 1649.1L1925.8 1640.5L1928.5 1655L1931.2 1692.9L1934 1691.2L1936.8 1699.2L1939.5 1693.2L1942.2 1698.3L1945 1693.6L1947.8 1697.4L1950.5 1693.9L1953.2 1697.2L1956 1694.3L1958.8 1697.4L1961.5 1694.7L1964.2 1697.7L1967 1695.1L1969.8 1698L1972.5 1695.5L1975.2 1698.3L1978 1695.8L1980.8 1698.6L1983.5 1696.2L1986.2 1698.8L1989 1696.6L1991.8 1699.1L1994.5 1697L1997.2 1699.4L2000 1697.4L2002.8 1699.7L2005.5 1697.8L2008.2 1700L2011 1698.1L2013.8 1700.2L2016.5 1698.2L2019.2 1700.3L2022 1698.4L2024.8 1700.5L2027.5 1698.6L2030.2 1700.7L2033 1698.8L2035.8 1700.9L2038.5 1699L2041.2 1701.1L2044 1699.1L2046.8 1701.3L2049.5 1699.3L2052.2 1701.5L2055 1699.5L2057.8 1701.7L2060.5 1699.7L2063.2 1701.8L2066 1699.9L2068.8 1705.8L2071.5 1698.7L2074.2 1734L2077 1698.7L2079.8 1719.2L2082.5 1702.7L2085.2 1705.2L2088 1704L2090.8 1705.5L2093.5 1704.3L2096.2 1705.8L2099 1704.5L2101.8 1706.1L2104.5 1704.8L2107.2 1706.4" fill="none" stroke="#f01414" stroke-width="2.7"/>
<path d="M416.4 1402L421.4 1339L426.4 1399.1M566.5 1442.8L571.5 1351L576.5 1409.1M717.3 1480.2L722.3 1400L727.3 1484.2M868 1506L873 1446L878 1523.9M1018.4 1535.7L1023.4 1478L1028.4 1536.3M1169.6 1564.9L1174.6 1481L1179.6 1572.7M1319 1625.3L1324 1556L1329 1617.7M1470 1639.1L1475 1562L1480 1602.6M1620.7 1607.7L1625.7 1548L1630.7 1594.4M1769.6 1685.3L1774.6 1671L1779.6 1686.7M1920.7 1667.9L1925.7 1627L1930.7 1677M2069.6 1700L2074.6 1696L2079.6 1701.6" fill="none" stroke="#f01818" stroke-width="2.4" stroke-linejoin="miter"/>
<path d="M273.2 1600V1967" stroke="#c0101a" stroke-width="3.2"/>
</g>
<rect x="272" y="1183.2" width="1838" height="784.4" fill="none" stroke="#2a2a2a" stroke-width="4.2"/>
<path d="M274 1443.5h19M2108 1443.5h-19M274 1705.3h19M2108 1705.3h-19M639.7 1965.6v-19M639.7 1185.2v19M1007 1965.6v-19M1007 1185.2v19M1374.3 1965.6v-19M1374.3 1185.2v19M1741.6 1965.6v-19M1741.6 1185.2v19" stroke="#2a2a2a" stroke-width="2.6" fill="none"/>
<text transform="translate(200.87 1201.28) scale(0.99 1)" font-size="53.35" fill="#2a2a2a" ><tspan x="0" font-weight="bold" font-style="normal">20</tspan></text>
<text transform="translate(166.04 1461.28) scale(0.99 1)" font-size="52.9" fill="#2a2a2a" ><tspan x="0" font-weight="bold" font-style="normal">−20</tspan></text>
<text transform="translate(166.64 1702.57) scale(0.96 1)" font-size="54.24" fill="#2a2a2a" ><tspan x="0" font-weight="bold" font-style="normal">−60</tspan></text>
<text transform="translate(147.57 1985.58) scale(1 1)" font-size="53.65" fill="#2a2a2a" ><tspan x="0" font-weight="bold" font-style="normal">−100</tspan></text>
<text transform="translate(257.76 2033.48) scale(0.97 1)" font-size="52.76" fill="#2a2a2a" ><tspan x="0" font-weight="bold" font-style="normal">0</tspan></text>
<text transform="translate(591.41 2033.29) scale(1 1)" font-size="52.02" fill="#2a2a2a" ><tspan x="0" font-weight="bold" font-style="normal">0.02</tspan></text>
<text transform="translate(959.23 2033.29) scale(0.99 1)" font-size="52.02" fill="#2a2a2a" ><tspan x="0" font-weight="bold" font-style="normal">0.04</tspan></text>
<text transform="translate(1327.83 2033.29) scale(0.99 1)" font-size="52.02" fill="#2a2a2a" ><tspan x="0" font-weight="bold" font-style="normal">0.06</tspan></text>
<text transform="translate(1694.71 2033) scale(1.02 1)" font-size="51.42" fill="#2a2a2a" ><tspan x="0" font-weight="bold" font-style="normal">0.08</tspan></text>
<text transform="translate(2076.88 2033) scale(0.98 1)" font-size="51.42" fill="#2a2a2a" ><tspan x="0" font-weight="bold" font-style="normal">0.1</tspan></text>
<text transform="translate(136.6 1877.03) rotate(-90) scale(1.04 1)" font-size="58.03" fill="#2a2a2a" ><tspan x="0" font-weight="bold" font-style="normal">Power Spectral Density</tspan></text>
<text transform="translate(1171.51 2105.5) scale(1.67 1)" font-size="57.8" fill="#2a2a2a" ><tspan x="0" font-weight="normal" font-style="italic">f</tspan></text>
<text transform="translate(453.4 1266.11) scale(1.04 1)" font-size="60.02" fill="#111" ><tspan x="0" font-weight="normal" font-style="italic">f</tspan><tspan x="16.67" font-weight="bold" font-style="normal">=</tspan><tspan x="50.87" font-weight="bold" font-style="italic">0.008</tspan></text>
<text transform="translate(582.88 1398) scale(0.97 1)" font-size="65.85" fill="#111" ><tspan x="0" font-weight="bold" font-style="italic">2f</tspan></text>
<text transform="translate(738.4 1406.77) scale(0.99 1)" font-size="64.89" fill="#111" ><tspan x="0" font-weight="bold" font-style="italic">3f</tspan></text>
<text transform="translate(886.19 1460.2) scale(1 1)" font-size="63.81" fill="#111" ><tspan x="0" font-weight="bold" font-style="italic">4f</tspan></text>
<text transform="translate(1039.59 1485.27) scale(0.98 1)" font-size="64.25" fill="#111" ><tspan x="0" font-weight="bold" font-style="italic">5f</tspan></text>
<path d="M519.7 1275.8L444 1325.8" stroke="#3344ee" stroke-width="2"/>
<path d="M424 1339L439.9 1319.5L439 1329.1L448.2 1332Z" fill="#1a1aff"/>
<path d="M1811 1269H1880" stroke="#333" stroke-width="2.4" stroke-dasharray="19.8 4"/>
<path d="M1810 1337.5H1879" stroke="#f01818" stroke-width="2.4"/>
<text transform="translate(1886.45 1290.8) scale(0.97 1)" font-size="57.42" fill="#111" ><tspan x="0" font-weight="bold" font-style="normal">P6*</tspan></text>
<text transform="translate(1885.19 1360.1) scale(1.02 1)" font-size="57.58" fill="#111" ><tspan x="0" font-weight="bold" font-style="normal">P6</tspan></text>
</g>
<text transform="translate(952.79 2218.88) scale(1.06 1)" font-size="60.22" fill="#111" ><tspan x="0" font-weight="normal" font-style="normal">(</tspan></text>
<text transform="translate(972.48 2218.64) scale(1.04 1)" font-size="57.56" fill="#111" ><tspan x="0" font-weight="bold" font-style="normal">d</tspan></text>
<text transform="translate(1006.45 2218.88) scale(1.05 1)" font-size="60.22" fill="#111" ><tspan x="0" font-weight="normal" font-style="normal">)</tspan></text>
<text transform="translate(1042.64 2218.61) scale(1.02 1)" font-size="60.04" fill="#111" ><tspan x="0" font-weight="normal" font-style="normal">Re</tspan></text>
<text transform="translate(1120.73 2220.39) scale(1.09 1)" font-size="58.4" fill="#111" ><tspan x="0" font-weight="normal" font-style="normal">=</tspan></text>
<text transform="translate(1166 2219.05) scale(1.01 1)" font-size="60.04" fill="#111" ><tspan x="0" font-weight="normal" font-style="normal">7.67</tspan></text>
<text transform="translate(1283.05 2217.79) scale(1.16 1)" font-size="49.6" fill="#111" ><tspan x="0" font-weight="normal" font-style="normal">×</tspan></text>
<text transform="translate(1327.02 2219.31) scale(0.96 1)" font-size="60.17" fill="#111" ><tspan x="0" font-weight="normal" font-style="normal">10</tspan></text>
<text transform="translate(1384.08 2195.56) scale(1.63 1)" font-size="24.56" fill="#111" ><tspan x="0" font-weight="normal" font-style="normal">6</tspan></text>
<g id="p3">
<clipPath id="c3"><rect x="270" y="2349.5" width="1810" height="843.5"/></clipPath>
<g clip-path="url(#c3)">
<path d="M270 2972.8L279.1 2931.7L288.1 2906.5L297.2 2910.4L306.2 2922.6L315.3 2879.4L324.3 2735.7L333.4 2622.7L342.4 2655.6L351.5 2790.5L360.5 2889.2L369.6 2932.8L378.6 2958.9L387.7 3001.2L396.7 2994.2L405.8 2963.6L414.8 2924.8L423.9 2905.4L432.9 2914.2L442 2921.4L451 2857.9L460.1 2700.9L469.1 2615.9L478.2 2684.1L487.2 2814.9L496.3 2903L505.3 2937.1L514.4 2970.3L523.4 3004L532.5 2989.7L541.5 2954L550.6 2918.7L559.6 2905L568.7 2917.7L577.7 2916.5L586.8 2829.3L595.8 2673L604.9 2612.1L613.9 2713.8L623 2838.2L632 2913.7L641.1 2941.5L650.1 2980L659.2 3002.6L668.2 2984.6L677.3 2945.2L686.3 2913.2L695.4 2906.2L704.4 2921.3L713.5 2906L722.5 2798.2L731.6 2650.7L740.6 2617.6L749.7 2742.1L758.7 2858.9L767.8 2921.9L776.8 2945.6L785.9 2988.8L794.9 3000.1L804 2978.9L813 2937.6L822.1 2908.4L831.1 2908.1L840.2 2923L849.2 2891.5L858.3 2763.8L867.3 2633.1L876.4 2633.5L885.4 2769.4L894.5 2876.2L903.5 2928.5L912.6 2950.7L921.6 2996.8L930.7 2997.2L939.7 2971.2L948.8 2930.3L957.8 2906.3L966.9 2911.1L975.9 2922.5L985 2876.2L994 2729.1L1003.1 2621.3L1012.1 2661L1021.2 2795.1L1030.2 2891.9L1039.3 2933.7L1048.3 2961.4L1057.4 3002.1L1066.4 2993.4L1075.5 2961.8L1084.5 2923.6L1093.6 2905.2L1102.6 2914.9L1111.7 2921.1L1120.7 2852.9L1129.8 2695.1L1138.8 2614.9L1147.9 2689.6L1156.9 2819.4L1166 2905.2L1175 2937.9L1184.1 2972.2L1193.1 3003.9L1202.2 2988.8L1211.2 2952.2L1220.3 2917.6L1229.3 2905.1L1238.4 2918.3L1247.4 2914.8L1256.5 2823.7L1265.5 2668.5L1274.6 2612L1283.6 2719.2L1292.7 2842.3L1301.7 2915.4L1310.8 2942.3L1319.8 2981.7L1328.9 3002.2L1337.9 2983.6L1347 2943.7L1356 2912.2L1365.1 2906.5L1374.1 2921.9L1383.2 2903.6L1392.2 2791.9L1401.3 2647.2L1410.3 2620.1L1419.4 2747.3L1428.4 2862.2L1437.5 2923.2L1446.5 2946.4L1455.6 2990.5L1464.6 2999.7L1473.7 2977.6L1482.7 2936.2L1491.8 2907.7L1500.8 2908.5L1509.9 2923L1518.9 2888.8L1528 2757.4L1537 2630.2L1546.1 2637.8L1555.1 2774.4L1564.2 2879.3L1573.2 2929.6L1582.3 2952L1591.3 2997.9L1600.4 2996.6L1609.4 2969.5L1618.5 2929L1627.5 2906L1636.6 2911.8L1645.6 2922.3L1654.7 2872.6L1663.7 2722.5L1672.8 2620L1681.8 2666.1L1690.9 2799.7L1699.9 2894.6L1709 2934.5L1718 2963.7L1727.1 3002.9L1736.1 2992.6L1745.2 2960L1754.2 2922.4L1763.3 2905.1L1772.3 2915.6L1781.4 2920.6L1790.4 2847.7L1799.5 2689.5L1808.5 2614L1817.6 2695.2L1826.6 2823.8L1835.7 2907.4L1844.7 2938.7L1853.8 2974L1862.8 3003.7L1871.9 2987.9L1880.9 2950.5L1890 2916.6L1899 2905.3L1908.1 2919L1917.1 2912.9L1926.2 2818.2L1935.2 2664.1L1944.3 2612.3L1953.3 2724.6L1962.4 2846.3L1971.4 2917L1980.5 2943L1989.5 2983.3L1998.6 3001.8L2007.6 2982.5L2016.7 2942.3L2025.7 2911.2L2034.8 2906.9L2043.8 2922.3L2052.9 2900.9L2061.9 2785.5L2071 2643.9L2080 2622.9" fill="none" stroke="#505050" stroke-width="7.2" stroke-dasharray="29.5 36.4" stroke-dashoffset="9.5"/>
<path d="M270 2606.2L270.5 2611.9L271 2619.8L271.5 2628.4L272 2636.1L272.5 2643.3L273 2650.4L273.5 2657.5L274 2664.8L274.5 2672.1L275 2679.3L275.5 2686.6L276 2694.1L276.5 2702.2L277 2711.3L277.5 2721.8L278 2732.8L278.5 2742.8L279 2751.3L279.5 2759L280 2766.1L280.5 2773.1L281 2780.2L281.5 2787.8L282 2795.5L282.5 2803.4L283 2811.5L283.5 2819.7L284 2828.7L284.5 2838.4L285 2847.8L285.5 2855.5L286 2860.7L286.5 2865.1L287 2869L287.5 2872.5L288 2875.6L288.5 2878.5L289 2881.2L289.5 2883.9L290 2886.7L290.5 2889.6L291 2892.5L291.5 2895.4L292 2898.2L292.5 2901L293 2903.7L293.5 2906.2L294 2908.7L294.5 2911L295 2913.1L295.5 2915.1L296 2916.9L296.5 2918.7L297 2920.3L297.5 2921.8L298 2923.3L298.5 2924.8L299 2926.2L299.5 2927.6L300 2929L300.5 2930.5L301 2932L301.5 2933.6L302 2935.2L302.5 2937L303 2938.9L303.5 2940.8L304 2942.7L304.5 2944.8L305 2946.8L305.5 2948.9L306 2950.9L306.5 2953L307 2955.1L307.5 2957.1L308 2959.1L308.5 2961.2L309 2963.3L309.5 2965.5L310 2967.6L310.5 2969.6L311 2971.5L311.5 2973.3L312 2974.9L312.5 2976.4L313 2978L313.5 2979.4L314 2980.8L314.5 2982.2L315 2983.4L315.5 2984.6L316 2985.6L316.5 2986.6L317 2987.5L317.5 2988.4L318 2989.2L318.5 2990.1L319 2990.9L319.5 2991.8L320 2992.5L320.5 2993.2L321 2993.9L321.5 2994.5L322 2994.9L322.5 2995.3L323 2995.6L323.5 2995.7L324 2995.7L324.5 2995.6L325 2995.4L325.5 2995.2L326 2994.8L326.5 2994.5L327 2994L327.5 2993.5L328 2993L328.5 2992.4L329 2991.7L329.5 2991L330 2990.3L330.5 2989.6L331 2988.9L331.5 2988.1L332 2987.3L332.5 2986.5L333 2985.6L333.5 2984.6L334 2983.4L334.5 2982.1L335 2980.7L335.5 2979.2L336 2977.6L336.5 2976L337 2974.3L337.5 2972.6L338 2970.8L338.5 2969.1L339 2967.2L339.5 2965.2L340 2963L340.5 2960.8L341 2958.4L341.5 2956L342 2953.5L342.5 2951L343 2948.5L343.5 2946.1L344 2943.7L344.5 2941.2L345 2938.8L345.5 2936.3L346 2933.8L346.5 2931.3L347 2928.8L347.5 2926.2L348 2923.7L348.5 2921.1L349 2918.6L349.5 2916L350 2913.5L350.5 2910.9L351 2908.3L351.5 2905.6L352 2903L352.5 2900.2L353 2897.4L353.5 2894.5L354 2891.4L354.5 2888.3L355 2885.2L355.5 2882.2L356 2879.2L356.5 2876.4L357 2873.7L357.5 2871L358 2868.4L358.5 2865.8L359 2863.2L359.5 2860.7L360 2858.1L360.5 2855.6L361 2853L361.5 2850.3L362 2847.5L362.5 2844.8L363 2842.1L363.5 2839.5L364 2837.1L364.5 2834.7L365 2832.6L365.5 2830.7L366 2829L366.5 2827.4L367 2825.9L367.5 2824.4L368 2823.1L368.5 2821.8L369 2820.5L369.5 2819.3L370 2818L370.5 2816.8L371 2815.5L371.5 2814.2L372 2812.9L372.5 2811.5L373 2810.1L373.5 2808.8L374 2807.5L374.5 2806.3L375 2805L375.5 2803.7L376 2802.3L376.5 2800.9L377 2799.3L377.5 2797.7L378 2795.9L378.5 2794L379 2791.9L379.5 2789.5L380 2786.8L380.5 2783.8L381 2780.4L381.5 2776.5L382 2772L382.5 2765.9L383 2758.8L383.5 2751.3L384 2743.5L384.5 2734.9L385 2726.2L385.5 2718.3L386 2711.6L386.5 2705.6L387 2699.9L387.5 2693.9L388 2687.3L388.5 2679.4L389 2670.5L389.5 2661.6L390 2653.9L390.5 2646.9L391 2640.2L391.5 2634L392 2628.3L392.5 2623.2L393 2618.2L393.5 2613.2L394 2608.5L394.5 2604.4L395 2601.1L395.5 2599.1L396 2597.7L396.5 2596.5L397 2595.4L397.5 2594.4L398 2593.7L398.5 2593.1L399 2592.7L399.5 2592.5L400 2592.7L400.5 2593.2L401 2594.2L401.5 2595.5L402 2597.2L402.5 2599.2L403 2601.5L403.5 2604L404 2607.4L404.5 2613.9L405 2622.1L405.5 2630.5L406 2638L406.5 2645.1L407 2652.2L407.5 2659.4L408 2666.7L408.5 2674L409 2681.2L409.5 2688.5L410 2696.2L410.5 2704.4L411 2713.9L411.5 2724.7L412 2735.5L412.5 2745.2L413 2753.4L413.5 2760.8L414 2767.9L414.5 2774.9L415 2782.1L415.5 2789.8L416 2797.6L416.5 2805.5L417 2813.6L417.5 2821.9L418 2831.2L418.5 2841L419 2850L419.5 2857L420 2861.9L420.5 2866.2L421 2870L421.5 2873.3L422 2876.4L422.5 2879.2L423 2881.9L423.5 2884.7L424 2887.5L424.5 2890.4L425 2893.3L425.5 2896.2L426 2899L426.5 2901.7L427 2904.3L427.5 2906.9L428 2909.3L428.5 2911.5L429 2913.6L429.5 2915.6L430 2917.4L430.5 2919.1L431 2920.7L431.5 2922.2L432 2923.7L432.5 2925.1L433 2926.5L433.5 2928L434 2929.4L434.5 2930.9L435 2932.4L435.5 2934L436 2935.7L436.5 2937.5L437 2939.3L437.5 2941.3L438 2943.3L438.5 2945.3L439 2947.3L439.5 2949.4L440 2951.5L440.5 2953.6L441 2955.6L441.5 2957.6L442 2959.7L442.5 2961.8L443 2963.9L443.5 2966L444 2968.1L444.5 2970.1L445 2972L445.5 2973.7L446 2975.3L446.5 2976.8L447 2978.3L447.5 2979.8L448 2981.2L448.5 2982.5L449 2983.7L449.5 2984.9L450 2985.9L450.5 2986.8L451 2987.7L451.5 2988.6L452 2989.5L452.5 2990.3L453 2991.2L453.5 2992L454 2992.7L454.5 2993.4L455 2994L455.5 2994.6L456 2995L456.5 2995.4L457 2995.6L457.5 2995.7L458 2995.7L458.5 2995.6L459 2995.4L459.5 2995.1L460 2994.8L460.5 2994.4L461 2993.9L461.5 2993.4L462 2992.8L462.5 2992.2L463 2991.5L463.5 2990.9L464 2990.2L464.5 2989.4L465 2988.7L465.5 2987.9L466 2987.1L466.5 2986.3L467 2985.4L467.5 2984.3L468 2983L468.5 2981.7L469 2980.3L469.5 2978.8L470 2977.2L470.5 2975.6L471 2973.9L471.5 2972.1L472 2970.4L472.5 2968.6L473 2966.7L473.5 2964.6L474 2962.4L474.5 2960.1L475 2957.8L475.5 2955.3L476 2952.8L476.5 2950.3L477 2947.9L477.5 2945.4L478 2943L478.5 2940.6L479 2938.1L479.5 2935.7L480 2933.2L480.5 2930.6L481 2928.1L481.5 2925.6L482 2923L482.5 2920.5L483 2917.9L483.5 2915.3L484 2912.8L484.5 2910.2L485 2907.6L485.5 2905L486 2902.3L486.5 2899.5L487 2896.6L487.5 2893.7L488 2890.6L488.5 2887.5L489 2884.4L489.5 2881.4L490 2878.5L490.5 2875.7L491 2873L491.5 2870.3L492 2867.7L492.5 2865.1L493 2862.6L493.5 2860L494 2857.5L494.5 2854.9L495 2852.3L495.5 2849.6L496 2846.8L496.5 2844.1L497 2841.4L497.5 2838.9L498 2836.4L498.5 2834.2L499 2832.1L499.5 2830.3L500 2828.6L500.5 2827L501 2825.5L501.5 2824.1L502 2822.7L502.5 2821.4L503 2820.2L503.5 2819L504 2817.7L504.5 2816.5L505 2815.2L505.5 2813.9L506 2812.5L506.5 2811.1L507 2809.8L507.5 2808.5L508 2807.2L508.5 2805.9L509 2804.6L509.5 2803.3L510 2801.9L510.5 2800.5L511 2798.9L511.5 2797.3L512 2795.4L512.5 2793.5L513 2791.3L513.5 2788.8L514 2786.1L514.5 2782.9L515 2779.4L515.5 2775.5L516 2770.5L516.5 2764.1L517 2756.8L517.5 2749.4L518 2741.3L518.5 2732.6L519 2724L519.5 2716.5L520 2710L520.5 2704.1L521 2698.4L521.5 2692.3L522 2685.4L522.5 2677.1L523 2668.1L523.5 2659.5L524 2652L524.5 2645.1L525 2638.6L525.5 2632.5L526 2627L526.5 2621.9L527 2616.9L527.5 2611.9L528 2607.3L528.5 2603.4L529 2600.5L529.5 2598.7L530 2597.4L530.5 2596.2L531 2595.1L531.5 2594.2L532 2593.5L532.5 2592.9L533 2592.6L533.5 2592.5L534 2592.8L534.5 2593.4L535 2594.5L535.5 2595.9L536 2597.7L536.5 2599.8L537 2602.1L537.5 2604.7L538 2608.8L538.5 2615.9L539 2624.3L539.5 2632.6L540 2639.9L540.5 2647L541 2654.1L541.5 2661.3L542 2668.6L542.5 2675.8L543 2683L543.5 2690.4L544 2698.2L544.5 2706.7L545 2716.6L545.5 2727.5L546 2738.2L546.5 2747.4L547 2755.4L547.5 2762.7L548 2769.7L548.5 2776.7L549 2784.1L549.5 2791.8L550 2799.6L550.5 2807.6L551 2815.7L551.5 2824.2L552 2833.7L552.5 2843.4L553 2852.1L553.5 2858.4L554 2863.1L554.5 2867.2L555 2870.9L555.5 2874.1L556 2877.1L556.5 2879.9L557 2882.6L557.5 2885.4L558 2888.2L558.5 2891.2L559 2894L559.5 2896.9L560 2899.7L560.5 2902.4L561 2905L561.5 2907.5L562 2909.9L562.5 2912.1L563 2914.2L563.5 2916.1L564 2917.8L564.5 2919.5L565 2921.1L565.5 2922.6L566 2924.1L566.5 2925.5L567 2926.9L567.5 2928.3L568 2929.8L568.5 2931.3L569 2932.8L569.5 2934.4L570 2936.1L570.5 2938L571 2939.8L571.5 2941.8L572 2943.8L572.5 2945.8L573 2947.9L573.5 2950L574 2952L574.5 2954.1L575 2956.1L575.5 2958.2L576 2960.2L576.5 2962.3L577 2964.5L577.5 2966.6L578 2968.6L578.5 2970.6L579 2972.5L579.5 2974.1L580 2975.7L580.5 2977.2L581 2978.7L581.5 2980.2L582 2981.5L582.5 2982.8L583 2984L583.5 2985.1L584 2986.2L584.5 2987.1L585 2987.9L585.5 2988.8L586 2989.7L586.5 2990.5L587 2991.4L587.5 2992.2L588 2992.9L588.5 2993.6L589 2994.2L589.5 2994.7L590 2995.1L590.5 2995.4L591 2995.6L591.5 2995.7L592 2995.6L592.5 2995.5L593 2995.3L593.5 2995L594 2994.7L594.5 2994.2L595 2993.8L595.5 2993.2L596 2992.6L596.5 2992L597 2991.4L597.5 2990.7L598 2990L598.5 2989.2L599 2988.5L599.5 2987.7L600 2986.9L600.5 2986.1L601 2985.1L601.5 2984L602 2982.7L602.5 2981.4L603 2979.9L603.5 2978.4L604 2976.8L604.5 2975.1L605 2973.4L605.5 2971.7L606 2969.9L606.5 2968.1L607 2966.2L607.5 2964.1L608 2961.9L608.5 2959.5L609 2957.1L609.5 2954.7L610 2952.2L610.5 2949.7L611 2947.2L611.5 2944.8L612 2942.4L612.5 2940L613 2937.5L613.5 2935L614 2932.5L614.5 2930L615 2927.5L615.5 2924.9L616 2922.4L616.5 2919.8L617 2917.2L617.5 2914.7L618 2912.1L618.5 2909.5L619 2906.9L619.5 2904.3L620 2901.5L620.5 2898.8L621 2895.9L621.5 2892.9L622 2889.8L622.5 2886.7L623 2883.6L623.5 2880.6L624 2877.8L624.5 2875L625 2872.3L625.5 2869.7L626 2867.1L626.5 2864.5L627 2861.9L627.5 2859.4L628 2856.8L628.5 2854.2L629 2851.6L629.5 2848.8L630 2846.1L630.5 2843.4L631 2840.8L631.5 2838.2L632 2835.8L632.5 2833.6L633 2831.6L633.5 2829.8L634 2828.1L634.5 2826.6L635 2825.1L635.5 2823.7L636 2822.4L636.5 2821.1L637 2819.9L637.5 2818.6L638 2817.4L638.5 2816.1L639 2814.9L639.5 2813.5L640 2812.2L640.5 2810.8L641 2809.4L641.5 2808.2L642 2806.9L642.5 2805.6L643 2804.3L643.5 2803L644 2801.6L644.5 2800.1L645 2798.5L645.5 2796.8L646 2794.9L646.5 2792.9L647 2790.7L647.5 2788.1L648 2785.3L648.5 2782.1L649 2778.4L649.5 2774.4L650 2769L650.5 2762.3L651 2754.9L651.5 2747.4L652 2739.1L652.5 2730.3L653 2721.9L653.5 2714.7L654 2708.4L654.5 2702.6L655 2696.9L655.5 2690.6L656 2683.3L656.5 2674.8L657 2665.8L657.5 2657.4L658 2650.2L658.5 2643.4L659 2637L659.5 2631L660 2625.6L660.5 2620.6L661 2615.5L661.5 2610.7L662 2606.3L662.5 2602.6L663 2599.9L663.5 2598.4L664 2597.1L664.5 2595.9L665 2594.9L665.5 2594L666 2593.3L666.5 2592.8L667 2592.6L667.5 2592.5L668 2592.9L668.5 2593.7L669 2594.9L669.5 2596.4L670 2598.2L670.5 2600.4L671 2602.8L671.5 2605.4L672 2610.5L672.5 2618L673 2626.5L673.5 2634.6L674 2641.7L674.5 2648.8L675 2655.9L675.5 2663.2L676 2670.5L676.5 2677.7L677 2684.9L677.5 2692.4L678 2700.4L678.5 2709.1L679 2719.4L679.5 2730.4L680 2740.8L680.5 2749.5L681 2757.3L681.5 2764.6L682 2771.5L682.5 2778.6L683 2786.1L683.5 2793.8L684 2801.7L684.5 2809.7L685 2817.9L685.5 2826.6L686 2836.3L686.5 2845.8L687 2854L687.5 2859.7L688 2864.2L688.5 2868.2L689 2871.7L689.5 2874.9L690 2877.9L690.5 2880.6L691 2883.3L691.5 2886.1L692 2889L692.5 2891.9L693 2894.8L693.5 2897.6L694 2900.4L694.5 2903.1L695 2905.7L695.5 2908.1L696 2910.5L696.5 2912.7L697 2914.7L697.5 2916.5L698 2918.3L698.5 2919.9L699 2921.5L699.5 2923L700 2924.4L700.5 2925.9L701 2927.3L701.5 2928.7L702 2930.1L702.5 2931.6L703 2933.2L703.5 2934.9L704 2936.6L704.5 2938.4L705 2940.3L705.5 2942.3L706 2944.3L706.5 2946.4L707 2948.4L707.5 2950.5L708 2952.6L708.5 2954.6L709 2956.7L709.5 2958.7L710 2960.8L710.5 2962.9L711 2965L711.5 2967.1L712 2969.2L712.5 2971.1L713 2972.9L713.5 2974.5L714 2976.1L714.5 2977.6L715 2979.1L715.5 2980.5L716 2981.9L716.5 2983.1L717 2984.3L717.5 2985.4L718 2986.4L718.5 2987.3L719 2988.2L719.5 2989L720 2989.9L720.5 2990.8L721 2991.6L721.5 2992.4L722 2993.1L722.5 2993.8L723 2994.3L723.5 2994.8L724 2995.2L724.5 2995.5L725 2995.7L725.5 2995.7L726 2995.6L726.5 2995.5L727 2995.2L727.5 2994.9L728 2994.6L728.5 2994.1L729 2993.6L729.5 2993.1L730 2992.5L730.5 2991.9L731 2991.2L731.5 2990.5L732 2989.8L732.5 2989L733 2988.3L733.5 2987.5L734 2986.7L734.5 2985.8L735 2984.8L735.5 2983.6L736 2982.4L736.5 2981L737 2979.5L737.5 2978L738 2976.4L738.5 2974.7L739 2973L739.5 2971.2L740 2969.5L740.5 2967.6L741 2965.6L741.5 2963.5L742 2961.3L742.5 2958.9L743 2956.5L743.5 2954L744 2951.5L744.5 2949.1L745 2946.6L745.5 2944.2L746 2941.8L746.5 2939.3L747 2936.8L747.5 2934.4L748 2931.8L748.5 2929.3L749 2926.8L749.5 2924.2L750 2921.7L750.5 2919.1L751 2916.6L751.5 2914L752 2911.4L752.5 2908.9L753 2906.2L753.5 2903.6L754 2900.8L754.5 2898L755 2895.1L755.5 2892.1L756 2889L756.5 2885.9L757 2882.8L757.5 2879.9L758 2877.1L758.5 2874.3L759 2871.6L759.5 2869L760 2866.4L760.5 2863.8L761 2861.3L761.5 2858.7L762 2856.2L762.5 2853.5L763 2850.9L763.5 2848.1L764 2845.4L764.5 2842.7L765 2840.1L765.5 2837.6L766 2835.2L766.5 2833.1L767 2831.1L767.5 2829.4L768 2827.7L768.5 2826.2L769 2824.8L769.5 2823.4L770 2822.1L770.5 2820.8L771 2819.5L771.5 2818.3L772 2817.1L772.5 2815.8L773 2814.5L773.5 2813.2L774 2811.8L774.5 2810.4L775 2809.1L775.5 2807.8L776 2806.5L776.5 2805.3L777 2804L777.5 2802.6L778 2801.2L778.5 2799.7L779 2798.1L779.5 2796.3L780 2794.4L780.5 2792.4L781 2790L781.5 2787.4L782 2784.5L782.5 2781.2L783 2777.4L783.5 2773.1L784 2767.4L784.5 2760.4L785 2752.9L785.5 2745.3L786 2736.8L786.5 2728.1L787 2719.9L787.5 2713L788 2706.9L788.5 2701.2L789 2695.3L789.5 2688.8L790 2681.2L790.5 2672.4L791 2663.5L791.5 2655.4L792 2648.4L792.5 2641.7L793 2635.4L793.5 2629.6L794 2624.3L794.5 2619.3L795 2614.3L795.5 2609.5L796 2605.2L796.5 2601.8L797 2599.4L797.5 2598L798 2596.8L798.5 2595.6L799 2594.6L799.5 2593.8L800 2593.2L800.5 2592.7L801 2592.5L801.5 2592.6L802 2593.1L802.5 2594L803 2595.2L803.5 2596.8L804 2598.8L804.5 2601L805 2603.4L805.5 2606.4L806 2612.2L806.5 2620.2L807 2628.7L807.5 2636.4L808 2643.6L808.5 2650.7L809 2657.8L809.5 2665.1L810 2672.4L810.5 2679.6L811 2686.9L811.5 2694.4L812 2702.5L812.5 2711.7L813 2722.2L813.5 2733.2L814 2743.2L814.5 2751.6L815 2759.2L815.5 2766.4L816 2773.4L816.5 2780.5L817 2788.1L817.5 2795.9L818 2803.8L818.5 2811.8L819 2820L819.5 2829.1L820 2838.8L820.5 2848.1L821 2855.7L821.5 2860.9L822 2865.3L822.5 2869.2L823 2872.6L823.5 2875.7L824 2878.6L824.5 2881.3L825 2884.1L825.5 2886.8L826 2889.8L826.5 2892.7L827 2895.5L827.5 2898.4L828 2901.1L828.5 2903.8L829 2906.3L829.5 2908.8L830 2911.1L830.5 2913.2L831 2915.2L831.5 2917L832 2918.7L832.5 2920.3L833 2921.9L833.5 2923.4L834 2924.8L834.5 2926.2L835 2927.6L835.5 2929.1L836 2930.5L836.5 2932L837 2933.6L837.5 2935.3L838 2937.1L838.5 2938.9L839 2940.8L839.5 2942.8L840 2944.8L840.5 2946.9L841 2949L841.5 2951L842 2953.1L842.5 2955.2L843 2957.2L843.5 2959.2L844 2961.3L844.5 2963.4L845 2965.6L845.5 2967.7L846 2969.7L846.5 2971.6L847 2973.3L847.5 2974.9L848 2976.5L848.5 2978L849 2979.5L849.5 2980.9L850 2982.2L850.5 2983.5L851 2984.6L851.5 2985.7L852 2986.6L852.5 2987.5L853 2988.4L853.5 2989.3L854 2990.1L854.5 2991L855 2991.8L855.5 2992.6L856 2993.3L856.5 2993.9L857 2994.5L857.5 2994.9L858 2995.3L858.5 2995.6L859 2995.7L859.5 2995.7L860 2995.6L860.5 2995.4L861 2995.2L861.5 2994.8L862 2994.4L862.5 2994L863 2993.5L863.5 2992.9L864 2992.3L864.5 2991.7L865 2991L865.5 2990.3L866 2989.6L866.5 2988.8L867 2988.1L867.5 2987.3L868 2986.5L868.5 2985.6L869 2984.5L869.5 2983.3L870 2982L870.5 2980.6L871 2979.1L871.5 2977.6L872 2975.9L872.5 2974.3L873 2972.5L873.5 2970.8L874 2969L874.5 2967.1L875 2965.1L875.5 2962.9L876 2960.7L876.5 2958.3L877 2955.9L877.5 2953.4L878 2950.9L878.5 2948.4L879 2946L879.5 2943.6L880 2941.1L880.5 2938.7L881 2936.2L881.5 2933.7L882 2931.2L882.5 2928.7L883 2926.1L883.5 2923.6L884 2921L884.5 2918.5L885 2915.9L885.5 2913.4L886 2910.8L886.5 2908.2L887 2905.5L887.5 2902.9L888 2900.1L888.5 2897.3L889 2894.3L889.5 2891.3L890 2888.2L890.5 2885.1L891 2882.1L891.5 2879.1L892 2876.3L892.5 2873.6L893 2870.9L893.5 2868.3L894 2865.7L894.5 2863.1L895 2860.6L895.5 2858L896 2855.5L896.5 2852.9L897 2850.2L897.5 2847.4L898 2844.7L898.5 2842L899 2839.4L899.5 2837L900 2834.6L900.5 2832.5L901 2830.6L901.5 2828.9L902 2827.3L902.5 2825.8L903 2824.4L903.5 2823L904 2821.7L904.5 2820.5L905 2819.2L905.5 2818L906 2816.7L906.5 2815.5L907 2814.2L907.5 2812.8L908 2811.4L908.5 2810.1L909 2808.8L909.5 2807.5L910 2806.2L910.5 2804.9L911 2803.6L911.5 2802.3L912 2800.8L912.5 2799.3L913 2797.6L913.5 2795.8L914 2793.9L914.5 2791.8L915 2789.4L915.5 2786.7L916 2783.7L916.5 2780.2L917 2776.4L917.5 2771.8L918 2765.6L918.5 2758.5L919 2751L919.5 2743.2L920 2734.5L920.5 2725.8L921 2718L921.5 2711.4L922 2705.4L922.5 2699.7L923 2693.7L923.5 2687L924 2679L924.5 2670.1L925 2661.3L925.5 2653.6L926 2646.6L926.5 2640L927 2633.8L927.5 2628.1L928 2623L928.5 2618L929 2613L929.5 2608.3L930 2604.2L930.5 2601L931 2599L931.5 2597.7L932 2596.5L932.5 2595.4L933 2594.4L933.5 2593.6L934 2593L934.5 2592.7L935 2592.5L935.5 2592.7L936 2593.3L936.5 2594.2L937 2595.6L937.5 2597.3L938 2599.3L938.5 2601.6L939 2604.1L939.5 2607.6L940 2614.2L940.5 2622.4L941 2630.9L941.5 2638.3L942 2645.4L942.5 2652.5L943 2659.7L943.5 2667L944 2674.3L944.5 2681.5L945 2688.8L945.5 2696.5L946 2704.8L946.5 2714.3L947 2725.1L947.5 2735.9L948 2745.5L948.5 2753.7L949 2761.1L949.5 2768.2L950 2775.2L950.5 2782.4L951 2790.1L951.5 2797.9L952 2805.8L952.5 2813.9L953 2822.2L953.5 2831.6L954 2841.3L954.5 2850.3L955 2857.3L955.5 2862.1L956 2866.4L956.5 2870.1L957 2873.4L957.5 2876.5L958 2879.3L958.5 2882L959 2884.8L959.5 2887.6L960 2890.5L960.5 2893.4L961 2896.3L961.5 2899.1L962 2901.8L962.5 2904.4L963 2907L963.5 2909.4L964 2911.6L964.5 2913.7L965 2915.7L965.5 2917.5L966 2919.2L966.5 2920.8L967 2922.3L967.5 2923.7L968 2925.2L968.5 2926.6L969 2928L969.5 2929.4L970 2930.9L970.5 2932.4L971 2934.1L971.5 2935.8L972 2937.6L972.5 2939.4L973 2941.4L973.5 2943.3L974 2945.4L974.5 2947.4L975 2949.5L975.5 2951.6L976 2953.6L976.5 2955.7L977 2957.7L977.5 2959.8L978 2961.9L978.5 2964L979 2966.1L979.5 2968.2L980 2970.2L980.5 2972.1L981 2973.8L981.5 2975.4L982 2976.9L982.5 2978.4L983 2979.8L983.5 2981.2L984 2982.5L984.5 2983.8L985 2984.9L985.5 2985.9L986 2986.9L986.5 2987.7L987 2988.6L987.5 2989.5L988 2990.4L988.5 2991.2L989 2992L989.5 2992.7L990 2993.4L990.5 2994.1L991 2994.6L991.5 2995.1L992 2995.4L992.5 2995.6L993 2995.7L993.5 2995.7L994 2995.6L994.5 2995.4L995 2995.1L995.5 2994.7L996 2994.3L996.5 2993.9L997 2993.3L997.5 2992.8L998 2992.2L998.5 2991.5L999 2990.8L999.5 2990.1L1000 2989.4L1000.5 2988.6L1001 2987.9L1001.5 2987.1L1002 2986.3L1002.5 2985.3L1003 2984.2L1003.5 2983L1004 2981.7L1004.5 2980.2L1005 2978.7L1005.5 2977.1L1006 2975.5L1006.5 2973.8L1007 2972.1L1007.5 2970.3L1008 2968.5L1008.5 2966.6L1009 2964.6L1009.5 2962.4L1010 2960.1L1010.5 2957.7L1011 2955.2L1011.5 2952.7L1012 2950.2L1012.5 2947.8L1013 2945.3L1013.5 2942.9L1014 2940.5L1014.5 2938L1015 2935.6L1015.5 2933.1L1016 2930.5L1016.5 2928L1017 2925.5L1017.5 2922.9L1018 2920.4L1018.5 2917.8L1019 2915.2L1019.5 2912.7L1020 2910.1L1020.5 2907.5L1021 2904.8L1021.5 2902.2L1022 2899.4L1022.5 2896.5L1023 2893.5L1023.5 2890.5L1024 2887.4L1024.5 2884.3L1025 2881.3L1025.5 2878.4L1026 2875.6L1026.5 2872.9L1027 2870.2L1027.5 2867.6L1028 2865L1028.5 2862.5L1029 2859.9L1029.5 2857.4L1030 2854.8L1030.5 2852.2L1031 2849.4L1031.5 2846.7L1032 2844L1032.5 2841.3L1033 2838.8L1033.5 2836.3L1034 2834.1L1034.5 2832L1035 2830.2L1035.5 2828.5L1036 2826.9L1036.5 2825.4L1037 2824L1037.5 2822.7L1038 2821.4L1038.5 2820.1L1039 2818.9L1039.5 2817.7L1040 2816.4L1040.5 2815.2L1041 2813.8L1041.5 2812.5L1042 2811.1L1042.5 2809.7L1043 2808.4L1043.5 2807.2L1044 2805.9L1044.5 2804.6L1045 2803.3L1045.5 2801.9L1046 2800.4L1046.5 2798.9L1047 2797.2L1047.5 2795.4L1048 2793.4L1048.5 2791.2L1049 2788.7L1049.5 2785.9L1050 2782.8L1050.5 2779.3L1051 2775.3L1051.5 2770.3L1052 2763.8L1052.5 2756.5L1053 2749.1L1053.5 2741L1054 2732.2L1054.5 2723.7L1055 2716.2L1055.5 2709.8L1056 2703.9L1056.5 2698.1L1057 2692L1057.5 2685.1L1058 2676.7L1058.5 2667.8L1059 2659.1L1059.5 2651.7L1060 2644.8L1060.5 2638.3L1061 2632.3L1061.5 2626.7L1062 2621.7L1062.5 2616.7L1063 2611.7L1063.5 2607.2L1064 2603.3L1064.5 2600.4L1065 2598.6L1065.5 2597.3L1066 2596.2L1066.5 2595.1L1067 2594.2L1067.5 2593.5L1068 2592.9L1068.5 2592.6L1069 2592.5L1069.5 2592.8L1070 2593.5L1070.5 2594.6L1071 2596L1071.5 2597.8L1072 2599.9L1072.5 2602.2L1073 2604.8L1073.5 2609.1L1074 2616.2L1074.5 2624.6L1075 2632.9L1075.5 2640.1L1076 2647.2L1076.5 2654.4L1077 2661.6L1077.5 2668.9L1078 2676.1L1078.5 2683.3L1079 2690.7L1079.5 2698.6L1080 2707.1L1080.5 2717L1081 2728L1081.5 2738.6L1082 2747.7L1082.5 2755.7L1083 2763L1083.5 2770L1084 2777L1084.5 2784.4L1085 2792.1L1085.5 2800L1086 2807.9L1086.5 2816L1087 2824.5L1087.5 2834.1L1088 2843.8L1088.5 2852.4L1089 2858.6L1089.5 2863.3L1090 2867.4L1090.5 2871L1091 2874.2L1091.5 2877.2L1092 2880L1092.5 2882.7L1093 2885.5L1093.5 2888.4L1094 2891.3L1094.5 2894.2L1095 2897L1095.5 2899.8L1096 2902.5L1096.5 2905.1L1097 2907.6L1097.5 2910L1098 2912.2L1098.5 2914.2L1099 2916.1L1099.5 2917.9L1100 2919.6L1100.5 2921.2L1101 2922.7L1101.5 2924.1L1102 2925.6L1102.5 2927L1103 2928.4L1103.5 2929.8L1104 2931.3L1104.5 2932.9L1105 2934.5L1105.5 2936.2L1106 2938L1106.5 2939.9L1107 2941.9L1107.5 2943.9L1108 2945.9L1108.5 2948L1109 2950L1109.5 2952.1L1110 2954.2L1110.5 2956.2L1111 2958.2L1111.5 2960.3L1112 2962.4L1112.5 2964.5L1113 2966.7L1113.5 2968.7L1114 2970.7L1114.5 2972.5L1115 2974.2L1115.5 2975.8L1116 2977.3L1116.5 2978.8L1117 2980.2L1117.5 2981.6L1118 2982.9L1118.5 2984.1L1119 2985.2L1119.5 2986.2L1120 2987.1L1120.5 2988L1121 2988.8L1121.5 2989.7L1122 2990.6L1122.5 2991.4L1123 2992.2L1123.5 2992.9L1124 2993.6L1124.5 2994.2L1125 2994.7L1125.5 2995.2L1126 2995.5L1126.5 2995.6L1127 2995.7L1127.5 2995.6L1128 2995.5L1128.5 2995.3L1129 2995L1129.5 2994.6L1130 2994.2L1130.5 2993.7L1131 2993.2L1131.5 2992.6L1132 2992L1132.5 2991.3L1133 2990.7L1133.5 2989.9L1134 2989.2L1134.5 2988.4L1135 2987.7L1135.5 2986.9L1136 2986L1136.5 2985L1137 2983.9L1137.5 2982.7L1138 2981.3L1138.5 2979.9L1139 2978.3L1139.5 2976.7L1140 2975.1L1140.5 2973.4L1141 2971.6L1141.5 2969.9L1142 2968.1L1142.5 2966.1L1143 2964L1143.5 2961.8L1144 2959.4L1144.5 2957L1145 2954.6L1145.5 2952.1L1146 2949.6L1146.5 2947.1L1147 2944.7L1147.5 2942.3L1148 2939.9L1148.5 2937.4L1149 2934.9L1149.5 2932.4L1150 2929.9L1150.5 2927.4L1151 2924.8L1151.5 2922.3L1152 2919.7L1152.5 2917.1L1153 2914.6L1153.5 2912L1154 2909.4L1154.5 2906.8L1155 2904.2L1155.5 2901.4L1156 2898.7L1156.5 2895.8L1157 2892.8L1157.5 2889.7L1158 2886.6L1158.5 2883.5L1159 2880.5L1159.5 2877.7L1160 2874.9L1160.5 2872.2L1161 2869.6L1161.5 2867L1162 2864.4L1162.5 2861.8L1163 2859.3L1163.5 2856.7L1164 2854.1L1164.5 2851.5L1165 2848.7L1165.5 2846L1166 2843.3L1166.5 2840.7L1167 2838.1L1167.5 2835.7L1168 2833.5L1168.5 2831.5L1169 2829.7L1169.5 2828.1L1170 2826.5L1170.5 2825.1L1171 2823.7L1171.5 2822.4L1172 2821.1L1172.5 2819.8L1173 2818.6L1173.5 2817.3L1174 2816.1L1174.5 2814.8L1175 2813.5L1175.5 2812.1L1176 2810.7L1176.5 2809.4L1177 2808.1L1177.5 2806.8L1178 2805.6L1178.5 2804.3L1179 2802.9L1179.5 2801.5L1180 2800L1180.5 2798.4L1181 2796.7L1181.5 2794.9L1182 2792.8L1182.5 2790.6L1183 2788L1183.5 2785.2L1184 2781.9L1184.5 2778.3L1185 2774.2L1185.5 2768.7L1186 2762L1186.5 2754.6L1187 2747.1L1187.5 2738.7L1188 2730L1188.5 2721.6L1189 2714.4L1189.5 2708.2L1190 2702.4L1190.5 2696.6L1191 2690.3L1191.5 2683L1192 2674.4L1192.5 2665.4L1193 2657.1L1193.5 2649.9L1194 2643.1L1194.5 2636.7L1195 2630.8L1195.5 2625.4L1196 2620.4L1196.5 2615.3L1197 2610.5L1197.5 2606.1L1198 2602.4L1198.5 2599.8L1199 2598.3L1199.5 2597L1200 2595.9L1200.5 2594.8L1201 2594L1201.5 2593.3L1202 2592.8L1202.5 2592.5L1203 2592.5L1203.5 2592.9L1204 2593.7L1204.5 2594.9L1205 2596.4L1205.5 2598.3L1206 2600.5L1206.5 2602.9L1207 2605.6L1207.5 2610.7L1208 2618.3L1208.5 2626.9L1209 2634.9L1209.5 2642L1210 2649.1L1210.5 2656.2L1211 2663.5L1211.5 2670.8L1212 2678L1212.5 2685.2L1213 2692.7L1213.5 2700.7L1214 2709.5L1214.5 2719.8L1215 2730.8L1215.5 2741.2L1216 2749.9L1216.5 2757.6L1217 2764.8L1217.5 2771.8L1218 2778.9L1218.5 2786.4L1219 2794.1L1219.5 2802L1220 2810L1220.5 2818.2L1221 2827L1221.5 2836.7L1222 2846.2L1222.5 2854.3L1223 2859.9L1223.5 2864.4L1224 2868.4L1224.5 2871.9L1225 2875L1225.5 2878L1226 2880.7L1226.5 2883.5L1227 2886.2L1227.5 2889.1L1228 2892L1228.5 2894.9L1229 2897.7L1229.5 2900.5L1230 2903.2L1230.5 2905.8L1231 2908.2L1231.5 2910.6L1232 2912.7L1232.5 2914.7L1233 2916.6L1233.5 2918.4L1234 2920L1234.5 2921.6L1235 2923L1235.5 2924.5L1236 2925.9L1236.5 2927.3L1237 2928.8L1237.5 2930.2L1238 2931.7L1238.5 2933.3L1239 2934.9L1239.5 2936.7L1240 2938.5L1240.5 2940.4L1241 2942.4L1241.5 2944.4L1242 2946.4L1242.5 2948.5L1243 2950.6L1243.5 2952.6L1244 2954.7L1244.5 2956.8L1245 2958.8L1245.5 2960.8L1246 2963L1246.5 2965.1L1247 2967.2L1247.5 2969.2L1248 2971.2L1248.5 2973L1249 2974.6L1249.5 2976.2L1250 2977.7L1250.5 2979.2L1251 2980.6L1251.5 2981.9L1252 2983.2L1252.5 2984.4L1253 2985.5L1253.5 2986.4L1254 2987.3L1254.5 2988.2L1255 2989.1L1255.5 2989.9L1256 2990.8L1256.5 2991.6L1257 2992.4L1257.5 2993.1L1258 2993.8L1258.5 2994.4L1259 2994.9L1259.5 2995.2L1260 2995.5L1260.5 2995.7L1261 2995.7L1261.5 2995.6L1262 2995.5L1262.5 2995.2L1263 2994.9L1263.5 2994.5L1264 2994.1L1264.5 2993.6L1265 2993.1L1265.5 2992.5L1266 2991.8L1266.5 2991.2L1267 2990.5L1267.5 2989.7L1268 2989L1268.5 2988.2L1269 2987.5L1269.5 2986.7L1270 2985.8L1270.5 2984.8L1271 2983.6L1271.5 2982.3L1272 2980.9L1272.5 2979.5L1273 2977.9L1273.5 2976.3L1274 2974.6L1274.5 2972.9L1275 2971.2L1275.5 2969.4L1276 2967.6L1276.5 2965.6L1277 2963.4L1277.5 2961.2L1278 2958.8L1278.5 2956.4L1279 2953.9L1279.5 2951.4L1280 2949L1280.5 2946.5L1281 2944.1L1281.5 2941.7L1282 2939.2L1282.5 2936.7L1283 2934.3L1283.5 2931.7L1284 2929.2L1284.5 2926.7L1285 2924.1L1285.5 2921.6L1286 2919L1286.5 2916.5L1287 2913.9L1287.5 2911.3L1288 2908.8L1288.5 2906.1L1289 2903.5L1289.5 2900.7L1290 2897.9L1290.5 2895L1291 2892L1291.5 2888.9L1292 2885.8L1292.5 2882.7L1293 2879.8L1293.5 2876.9L1294 2874.2L1294.5 2871.5L1295 2868.9L1295.5 2866.3L1296 2863.7L1296.5 2861.2L1297 2858.6L1297.5 2856.1L1298 2853.4L1298.5 2850.8L1299 2848L1299.5 2845.3L1300 2842.6L1300.5 2840L1301 2837.5L1301.5 2835.1L1302 2833L1302.5 2831L1303 2829.3L1303.5 2827.7L1304 2826.1L1304.5 2824.7L1305 2823.3L1305.5 2822L1306 2820.7L1306.5 2819.5L1307 2818.3L1307.5 2817L1308 2815.8L1308.5 2814.5L1309 2813.1L1309.5 2811.7L1310 2810.4L1310.5 2809.1L1311 2807.8L1311.5 2806.5L1312 2805.2L1312.5 2803.9L1313 2802.6L1313.5 2801.1L1314 2799.6L1314.5 2798L1315 2796.3L1315.5 2794.3L1316 2792.3L1316.5 2789.9L1317 2787.3L1317.5 2784.4L1318 2781L1318.5 2777.3L1319 2772.9L1319.5 2767.1L1320 2760.1L1320.5 2752.6L1321 2745L1321.5 2736.5L1322 2727.7L1322.5 2719.6L1323 2712.7L1323.5 2706.7L1324 2700.9L1324.5 2695L1325 2688.6L1325.5 2680.9L1326 2672.1L1326.5 2663.2L1327 2655.1L1327.5 2648.1L1328 2641.4L1328.5 2635.1L1329 2629.3L1329.5 2624.1L1330 2619.1L1330.5 2614.1L1331 2609.3L1331.5 2605.1L1332 2601.7L1332.5 2599.3L1333 2598L1333.5 2596.7L1334 2595.6L1334.5 2594.6L1335 2593.8L1335.5 2593.2L1336 2592.7L1336.5 2592.5L1337 2592.6L1337.5 2593.1L1338 2594L1338.5 2595.3L1339 2596.9L1339.5 2598.8L1340 2601.1L1340.5 2603.5L1341 2606.6L1341.5 2612.5L1342 2620.5L1342.5 2629.1L1343 2636.7L1343.5 2643.8L1344 2650.9L1344.5 2658.1L1345 2665.4L1345.5 2672.7L1346 2679.9L1346.5 2687.1L1347 2694.7L1347.5 2702.9L1348 2712.1L1348.5 2722.7L1349 2733.6L1349.5 2743.6L1350 2752L1350.5 2759.5L1351 2766.7L1351.5 2773.6L1352 2780.8L1352.5 2788.4L1353 2796.2L1353.5 2804.1L1354 2812.1L1354.5 2820.3L1355 2829.4L1355.5 2839.2L1356 2848.5L1356.5 2856L1357 2861.1L1357.5 2865.5L1358 2869.3L1358.5 2872.7L1359 2875.8L1359.5 2878.7L1360 2881.4L1360.5 2884.2L1361 2887L1361.5 2889.9L1362 2892.8L1362.5 2895.6L1363 2898.5L1363.5 2901.2L1364 2903.9L1364.5 2906.4L1365 2908.8L1365.5 2911.1L1366 2913.3L1366.5 2915.2L1367 2917.1L1367.5 2918.8L1368 2920.4L1368.5 2921.9L1369 2923.4L1369.5 2924.9L1370 2926.3L1370.5 2927.7L1371 2929.1L1371.5 2930.6L1372 2932.1L1372.5 2933.7L1373 2935.4L1373.5 2937.1L1374 2939L1374.5 2940.9L1375 2942.9L1375.5 2944.9L1376 2947L1376.5 2949L1377 2951.1L1377.5 2953.2L1378 2955.2L1378.5 2957.3L1379 2959.3L1379.5 2961.4L1380 2963.5L1380.5 2965.7L1381 2967.7L1381.5 2969.8L1382 2971.7L1382.5 2973.4L1383 2975L1383.5 2976.6L1384 2978.1L1384.5 2979.5L1385 2980.9L1385.5 2982.3L1386 2983.5L1386.5 2984.7L1387 2985.7L1387.5 2986.7L1388 2987.6L1388.5 2988.4L1389 2989.3L1389.5 2990.2L1390 2991L1390.5 2991.8L1391 2992.6L1391.5 2993.3L1392 2993.9L1392.5 2994.5L1393 2995L1393.5 2995.3L1394 2995.6L1394.5 2995.7L1395 2995.7L1395.5 2995.6L1396 2995.4L1396.5 2995.1L1397 2994.8L1397.5 2994.4L1398 2994L1398.5 2993.5L1399 2992.9L1399.5 2992.3L1400 2991.7L1400.5 2991L1401 2990.3L1401.5 2989.6L1402 2988.8L1402.5 2988L1403 2987.3L1403.5 2986.5L1404 2985.5L1404.5 2984.5L1405 2983.3L1405.5 2982L1406 2980.6L1406.5 2979.1L1407 2977.5L1407.5 2975.9L1408 2974.2L1408.5 2972.5L1409 2970.7L1409.5 2968.9L1410 2967.1L1410.5 2965L1411 2962.8L1411.5 2960.6L1412 2958.2L1412.5 2955.8L1413 2953.3L1413.5 2950.8L1414 2948.3L1414.5 2945.9L1415 2943.5L1415.5 2941L1416 2938.6L1416.5 2936.1L1417 2933.6L1417.5 2931.1L1418 2928.6L1418.5 2926L1419 2923.5L1419.5 2920.9L1420 2918.4L1420.5 2915.8L1421 2913.2L1421.5 2910.7L1422 2908.1L1422.5 2905.4L1423 2902.7L1423.5 2900L1424 2897.2L1424.5 2894.2L1425 2891.2L1425.5 2888.1L1426 2885L1426.5 2881.9L1427 2879L1427.5 2876.2L1428 2873.5L1428.5 2870.8L1429 2868.2L1429.5 2865.6L1430 2863L1430.5 2860.5L1431 2857.9L1431.5 2855.4L1432 2852.7L1432.5 2850L1433 2847.3L1433.5 2844.6L1434 2841.9L1434.5 2839.3L1435 2836.9L1435.5 2834.6L1436 2832.4L1436.5 2830.6L1437 2828.9L1437.5 2827.3L1438 2825.8L1438.5 2824.3L1439 2823L1439.5 2821.7L1440 2820.4L1440.5 2819.2L1441 2817.9L1441.5 2816.7L1442 2815.4L1442.5 2814.1L1443 2812.8L1443.5 2811.4L1444 2810L1444.5 2808.7L1445 2807.4L1445.5 2806.2L1446 2804.9L1446.5 2803.6L1447 2802.2L1447.5 2800.8L1448 2799.2L1448.5 2797.6L1449 2795.8L1449.5 2793.8L1450 2791.7L1450.5 2789.3L1451 2786.6L1451.5 2783.5L1452 2780.1L1452.5 2776.2L1453 2771.6L1453.5 2765.4L1454 2758.2L1454.5 2750.7L1455 2742.8L1455.5 2734.2L1456 2725.5L1456.5 2717.7L1457 2711.1L1457.5 2705.2L1458 2699.4L1458.5 2693.4L1459 2686.7L1459.5 2678.7L1460 2669.7L1460.5 2661L1461 2653.3L1461.5 2646.3L1462 2639.7L1462.5 2633.6L1463 2627.9L1463.5 2622.8L1464 2617.8L1464.5 2612.8L1465 2608.1L1465.5 2604.1L1466 2600.9L1466.5 2598.9L1467 2597.6L1467.5 2596.4L1468 2595.3L1468.5 2594.4L1469 2593.6L1469.5 2593L1470 2592.6L1470.5 2592.5L1471 2592.7L1471.5 2593.3L1472 2594.3L1472.5 2595.7L1473 2597.4L1473.5 2599.4L1474 2601.7L1474.5 2604.2L1475 2607.8L1475.5 2614.5L1476 2622.7L1476.5 2631.2L1477 2638.6L1477.5 2645.7L1478 2652.8L1478.5 2660L1479 2667.3L1479.5 2674.5L1480 2681.7L1480.5 2689.1L1481 2696.8L1481.5 2705.1L1482 2714.7L1482.5 2725.6L1483 2736.4L1483.5 2745.9L1484 2754L1484.5 2761.4L1485 2768.5L1485.5 2775.5L1486 2782.7L1486.5 2790.4L1487 2798.2L1487.5 2806.2L1488 2814.2L1488.5 2822.6L1489 2832L1489.5 2841.7L1490 2850.6L1490.5 2857.5L1491 2862.3L1491.5 2866.5L1492 2870.2L1492.5 2873.6L1493 2876.6L1493.5 2879.4L1494 2882.2L1494.5 2884.9L1495 2887.7L1495.5 2890.6L1496 2893.5L1496.5 2896.4L1497 2899.2L1497.5 2901.9L1498 2904.5L1498.5 2907.1L1499 2909.5L1499.5 2911.7L1500 2913.8L1500.5 2915.7L1501 2917.5L1501.5 2919.2L1502 2920.8L1502.5 2922.3L1503 2923.8L1503.5 2925.2L1504 2926.7L1504.5 2928.1L1505 2929.5L1505.5 2931L1506 2932.5L1506.5 2934.1L1507 2935.8L1507.5 2937.6L1508 2939.5L1508.5 2941.4L1509 2943.4L1509.5 2945.5L1510 2947.5L1510.5 2949.6L1511 2951.7L1511.5 2953.7L1512 2955.8L1512.5 2957.8L1513 2959.8L1513.5 2961.9L1514 2964.1L1514.5 2966.2L1515 2968.3L1515.5 2970.3L1516 2972.1L1516.5 2973.8L1517 2975.4L1517.5 2977L1518 2978.5L1518.5 2979.9L1519 2981.3L1519.5 2982.6L1520 2983.8L1520.5 2985L1521 2986L1521.5 2986.9L1522 2987.8L1522.5 2988.7L1523 2989.5L1523.5 2990.4L1524 2991.2L1524.5 2992L1525 2992.8L1525.5 2993.5L1526 2994.1L1526.5 2994.6L1527 2995.1L1527.5 2995.4L1528 2995.6L1528.5 2995.7L1529 2995.7L1529.5 2995.5L1530 2995.3L1530.5 2995.1L1531 2994.7L1531.5 2994.3L1532 2993.8L1532.5 2993.3L1533 2992.8L1533.5 2992.1L1534 2991.5L1534.5 2990.8L1535 2990.1L1535.5 2989.4L1536 2988.6L1536.5 2987.8L1537 2987.1L1537.5 2986.2L1538 2985.3L1538.5 2984.2L1539 2982.9L1539.5 2981.6L1540 2980.2L1540.5 2978.7L1541 2977.1L1541.5 2975.4L1542 2973.7L1542.5 2972L1543 2970.2L1543.5 2968.5L1544 2966.5L1544.5 2964.5L1545 2962.3L1545.5 2960L1546 2957.6L1546.5 2955.1L1547 2952.6L1547.5 2950.1L1548 2947.7L1548.5 2945.2L1549 2942.8L1549.5 2940.4L1550 2937.9L1550.5 2935.5L1551 2933L1551.5 2930.4L1552 2927.9L1552.5 2925.4L1553 2922.8L1553.5 2920.3L1554 2917.7L1554.5 2915.1L1555 2912.6L1555.5 2910L1556 2907.4L1556.5 2904.7L1557 2902L1557.5 2899.3L1558 2896.4L1558.5 2893.4L1559 2890.4L1559.5 2887.3L1560 2884.2L1560.5 2881.2L1561 2878.3L1561.5 2875.5L1562 2872.8L1562.5 2870.1L1563 2867.5L1563.5 2864.9L1564 2862.4L1564.5 2859.8L1565 2857.3L1565.5 2854.7L1566 2852.1L1566.5 2849.3L1567 2846.6L1567.5 2843.9L1568 2841.2L1568.5 2838.7L1569 2836.2L1569.5 2834L1570 2831.9L1570.5 2830.1L1571 2828.4L1571.5 2826.9L1572 2825.4L1572.5 2824L1573 2822.6L1573.5 2821.3L1574 2820.1L1574.5 2818.9L1575 2817.6L1575.5 2816.4L1576 2815.1L1576.5 2813.8L1577 2812.4L1577.5 2811L1578 2809.7L1578.5 2808.4L1579 2807.1L1579.5 2805.8L1580 2804.5L1580.5 2803.2L1581 2801.8L1581.5 2800.4L1582 2798.8L1582.5 2797.1L1583 2795.3L1583.5 2793.3L1584 2791.1L1584.5 2788.6L1585 2785.8L1585.5 2782.7L1586 2779.1L1586.5 2775.1L1587 2770.1L1587.5 2763.6L1588 2756.2L1588.5 2748.8L1589 2740.6L1589.5 2731.9L1590 2723.4L1590.5 2715.9L1591 2709.5L1591.5 2703.7L1592 2697.9L1592.5 2691.8L1593 2684.8L1593.5 2676.4L1594 2667.4L1594.5 2658.8L1595 2651.4L1595.5 2644.6L1596 2638.1L1596.5 2632L1597 2626.5L1597.5 2621.5L1598 2616.5L1598.5 2611.5L1599 2607L1599.5 2603.2L1600 2600.3L1600.5 2598.6L1601 2597.3L1601.5 2596.1L1602 2595.1L1602.5 2594.2L1603 2593.4L1603.5 2592.9L1604 2592.6L1604.5 2592.5L1605 2592.8L1605.5 2593.5L1606 2594.6L1606.5 2596.1L1607 2597.9L1607.5 2600L1608 2602.3L1608.5 2604.9L1609 2609.3L1609.5 2616.5L1610 2625L1610.5 2633.2L1611 2640.4L1611.5 2647.5L1612 2654.7L1612.5 2661.9L1613 2669.2L1613.5 2676.4L1614 2683.6L1614.5 2691L1615 2698.9L1615.5 2707.4L1616 2717.5L1616.5 2728.4L1617 2739L1617.5 2748.1L1618 2756L1618.5 2763.3L1619 2770.3L1619.5 2777.3L1620 2784.7L1620.5 2792.4L1621 2800.3L1621.5 2808.2L1622 2816.4L1622.5 2824.9L1623 2834.5L1623.5 2844.2L1624 2852.7L1624.5 2858.8L1625 2863.4L1625.5 2867.5L1626 2871.1L1626.5 2874.4L1627 2877.3L1627.5 2880.1L1628 2882.9L1628.5 2885.6L1629 2888.5L1629.5 2891.4L1630 2894.3L1630.5 2897.1L1631 2899.9L1631.5 2902.6L1632 2905.2L1632.5 2907.7L1633 2910.1L1633.5 2912.3L1634 2914.3L1634.5 2916.2L1635 2918L1635.5 2919.6L1636 2921.2L1636.5 2922.7L1637 2924.2L1637.5 2925.6L1638 2927L1638.5 2928.4L1639 2929.9L1639.5 2931.4L1640 2932.9L1640.5 2934.6L1641 2936.3L1641.5 2938.1L1642 2940L1642.5 2941.9L1643 2943.9L1643.5 2946L1644 2948L1644.5 2950.1L1645 2952.2L1645.5 2954.3L1646 2956.3L1646.5 2958.3L1647 2960.4L1647.5 2962.5L1648 2964.6L1648.5 2966.7L1649 2968.8L1649.5 2970.8L1650 2972.6L1650.5 2974.3L1651 2975.8L1651.5 2977.4L1652 2978.8L1652.5 2980.3L1653 2981.6L1653.5 2982.9L1654 2984.1L1654.5 2985.2L1655 2986.2L1655.5 2987.1L1656 2988L1656.5 2988.9L1657 2989.8L1657.5 2990.6L1658 2991.4L1658.5 2992.2L1659 2993L1659.5 2993.6L1660 2994.2L1660.5 2994.8L1661 2995.2L1661.5 2995.5L1662 2995.7L1662.5 2995.7L1663 2995.6L1663.5 2995.5L1664 2995.3L1664.5 2995L1665 2994.6L1665.5 2994.2L1666 2993.7L1666.5 2993.2L1667 2992.6L1667.5 2992L1668 2991.3L1668.5 2990.6L1669 2989.9L1669.5 2989.2L1670 2988.4L1670.5 2987.6L1671 2986.9L1671.5 2986L1672 2985L1672.5 2983.9L1673 2982.6L1673.5 2981.2L1674 2979.8L1674.5 2978.3L1675 2976.7L1675.5 2975L1676 2973.3L1676.5 2971.5L1677 2969.8L1677.5 2968L1678 2966L1678.5 2963.9L1679 2961.7L1679.5 2959.3L1680 2956.9L1680.5 2954.5L1681 2952L1681.5 2949.5L1682 2947L1682.5 2944.6L1683 2942.2L1683.5 2939.8L1684 2937.3L1684.5 2934.8L1685 2932.3L1685.5 2929.8L1686 2927.2L1686.5 2924.7L1687 2922.2L1687.5 2919.6L1688 2917L1688.5 2914.5L1689 2911.9L1689.5 2909.3L1690 2906.7L1690.5 2904L1691 2901.3L1691.5 2898.5L1692 2895.6L1692.5 2892.6L1693 2889.6L1693.5 2886.5L1694 2883.4L1694.5 2880.4L1695 2877.6L1695.5 2874.8L1696 2872.1L1696.5 2869.5L1697 2866.8L1697.5 2864.3L1698 2861.7L1698.5 2859.2L1699 2856.6L1699.5 2854L1700 2851.4L1700.5 2848.6L1701 2845.9L1701.5 2843.2L1702 2840.6L1702.5 2838L1703 2835.6L1703.5 2833.4L1704 2831.4L1704.5 2829.7L1705 2828L1705.5 2826.5L1706 2825L1706.5 2823.6L1707 2822.3L1707.5 2821L1708 2819.8L1708.5 2818.5L1709 2817.3L1709.5 2816L1710 2814.8L1710.5 2813.4L1711 2812.1L1711.5 2810.7L1712 2809.3L1712.5 2808L1713 2806.8L1713.5 2805.5L1714 2804.2L1714.5 2802.9L1715 2801.5L1715.5 2800L1716 2798.4L1716.5 2796.7L1717 2794.8L1717.5 2792.7L1718 2790.5L1718.5 2787.9L1719 2785L1719.5 2781.8L1720 2778.1L1720.5 2774L1721 2768.5L1721.5 2761.7L1722 2754.3L1722.5 2746.8L1723 2738.4L1723.5 2729.6L1724 2721.3L1724.5 2714.2L1725 2708L1725.5 2702.2L1726 2696.4L1726.5 2690.1L1727 2682.7L1727.5 2674.1L1728 2665.1L1728.5 2656.8L1729 2649.6L1729.5 2642.8L1730 2636.5L1730.5 2630.6L1731 2625.2L1731.5 2620.2L1732 2615.1L1732.5 2610.3L1733 2605.9L1733.5 2602.3L1734 2599.7L1734.5 2598.2L1735 2597L1735.5 2595.8L1736 2594.8L1736.5 2594L1737 2593.3L1737.5 2592.8L1738 2592.5L1738.5 2592.5L1739 2592.9L1739.5 2593.8L1740 2595L1740.5 2596.5L1741 2598.4L1741.5 2600.5L1742 2603L1742.5 2605.7L1743 2611L1743.5 2618.7L1744 2627.2L1744.5 2635.1L1745 2642.3L1745.5 2649.4L1746 2656.5L1746.5 2663.7L1747 2671.1L1747.5 2678.3L1748 2685.5L1748.5 2693L1749 2701L1749.5 2709.9L1750 2720.3L1750.5 2731.3L1751 2741.5L1751.5 2750.2L1752 2757.9L1752.5 2765.1L1753 2772.1L1753.5 2779.2L1754 2786.7L1754.5 2794.5L1755 2802.3L1755.5 2810.3L1756 2818.5L1756.5 2827.3L1757 2837.1L1757.5 2846.5L1758 2854.5L1758.5 2860.1L1759 2864.6L1759.5 2868.5L1760 2872L1760.5 2875.2L1761 2878.1L1761.5 2880.8L1762 2883.6L1762.5 2886.3L1763 2889.2L1763.5 2892.1L1764 2895L1764.5 2897.8L1765 2900.6L1765.5 2903.3L1766 2905.9L1766.5 2908.3L1767 2910.6L1767.5 2912.8L1768 2914.8L1768.5 2916.7L1769 2918.4L1769.5 2920.1L1770 2921.6L1770.5 2923.1L1771 2924.6L1771.5 2926L1772 2927.4L1772.5 2928.8L1773 2930.3L1773.5 2931.8L1774 2933.3L1774.5 2935L1775 2936.8L1775.5 2938.6L1776 2940.5L1776.5 2942.5L1777 2944.5L1777.5 2946.5L1778 2948.6L1778.5 2950.7L1779 2952.7L1779.5 2954.8L1780 2956.8L1780.5 2958.8L1781 2960.9L1781.5 2963.1L1782 2965.2L1782.5 2967.3L1783 2969.3L1783.5 2971.3L1784 2973L1784.5 2974.7L1785 2976.2L1785.5 2977.7L1786 2979.2L1786.5 2980.6L1787 2982L1787.5 2983.2L1788 2984.4L1788.5 2985.5L1789 2986.5L1789.5 2987.4L1790 2988.2L1790.5 2989.1L1791 2990L1791.5 2990.8L1792 2991.6L1792.5 2992.4L1793 2993.1L1793.5 2993.8L1794 2994.4L1794.5 2994.9L1795 2995.3L1795.5 2995.5L1796 2995.7L1796.5 2995.7L1797 2995.6L1797.5 2995.4L1798 2995.2L1798.5 2994.9L1799 2994.5L1799.5 2994.1L1800 2993.6L1800.5 2993L1801 2992.4L1801.5 2991.8L1802 2991.1L1802.5 2990.4L1803 2989.7L1803.5 2989L1804 2988.2L1804.5 2987.4L1805 2986.7L1805.5 2985.8L1806 2984.7L1806.5 2983.5L1807 2982.3L1807.5 2980.9L1808 2979.4L1808.5 2977.9L1809 2976.2L1809.5 2974.6L1810 2972.8L1810.5 2971.1L1811 2969.3L1811.5 2967.5L1812 2965.5L1812.5 2963.3L1813 2961.1L1813.5 2958.7L1814 2956.3L1814.5 2953.8L1815 2951.3L1815.5 2948.9L1816 2946.4L1816.5 2944L1817 2941.6L1817.5 2939.1L1818 2936.6L1818.5 2934.2L1819 2931.6L1819.5 2929.1L1820 2926.6L1820.5 2924L1821 2921.5L1821.5 2918.9L1822 2916.4L1822.5 2913.8L1823 2911.2L1823.5 2908.6L1824 2906L1824.5 2903.3L1825 2900.6L1825.5 2897.8L1826 2894.9L1826.5 2891.8L1827 2888.7L1827.5 2885.7L1828 2882.6L1828.5 2879.7L1829 2876.8L1829.5 2874.1L1830 2871.4L1830.5 2868.8L1831 2866.2L1831.5 2863.6L1832 2861.1L1832.5 2858.5L1833 2855.9L1833.5 2853.3L1834 2850.6L1834.5 2847.9L1835 2845.2L1835.5 2842.5L1836 2839.9L1836.5 2837.4L1837 2835L1837.5 2832.9L1838 2831L1838.5 2829.2L1839 2827.6L1839.5 2826.1L1840 2824.6L1840.5 2823.3L1841 2822L1841.5 2820.7L1842 2819.4L1842.5 2818.2L1843 2817L1843.5 2815.7L1844 2814.4L1844.5 2813.1L1845 2811.7L1845.5 2810.3L1846 2809L1846.5 2807.7L1847 2806.4L1847.5 2805.2L1848 2803.9L1848.5 2802.5L1849 2801.1L1849.5 2799.6L1850 2797.9L1850.5 2796.2L1851 2794.3L1851.5 2792.2L1852 2789.8L1852.5 2787.2L1853 2784.2L1853.5 2780.9L1854 2777.1L1854.5 2772.7L1855 2766.8L1855.5 2759.8L1856 2752.3L1856.5 2744.7L1857 2736.1L1857.5 2727.4L1858 2719.3L1858.5 2712.5L1859 2706.4L1859.5 2700.7L1860 2694.8L1860.5 2688.3L1861 2680.5L1861.5 2671.7L1862 2662.8L1862.5 2654.9L1863 2647.8L1863.5 2641.1L1864 2634.9L1864.5 2629.1L1865 2623.9L1865.5 2618.9L1866 2613.9L1866.5 2609.1L1867 2604.9L1867.5 2601.5L1868 2599.3L1868.5 2597.9L1869 2596.7L1869.5 2595.5L1870 2594.6L1870.5 2593.8L1871 2593.1L1871.5 2592.7L1872 2592.5L1872.5 2592.6L1873 2593.1L1873.5 2594L1874 2595.3L1874.5 2597L1875 2598.9L1875.5 2601.1L1876 2603.6L1876.5 2606.8L1877 2612.8L1877.5 2620.9L1878 2629.4L1878.5 2637L1879 2644.1L1879.5 2651.2L1880 2658.4L1880.5 2665.6L1881 2673L1881.5 2680.2L1882 2687.4L1882.5 2695.1L1883 2703.2L1883.5 2712.5L1884 2723.1L1884.5 2734L1885 2743.9L1885.5 2752.3L1886 2759.8L1886.5 2766.9L1887 2773.9L1887.5 2781.1L1888 2788.7L1888.5 2796.5L1889 2804.4L1889.5 2812.5L1890 2820.7L1890.5 2829.8L1891 2839.6L1891.5 2848.8L1892 2856.2L1892.5 2861.3L1893 2865.6L1893.5 2869.5L1894 2872.9L1894.5 2875.9L1895 2878.8L1895.5 2881.6L1896 2884.3L1896.5 2887.1L1897 2890L1897.5 2892.9L1898 2895.8L1898.5 2898.6L1899 2901.3L1899.5 2904L1900 2906.5L1900.5 2908.9L1901 2911.2L1901.5 2913.4L1902 2915.3L1902.5 2917.1L1903 2918.9L1903.5 2920.5L1904 2922L1904.5 2923.5L1905 2924.9L1905.5 2926.3L1906 2927.8L1906.5 2929.2L1907 2930.7L1907.5 2932.2L1908 2933.8L1908.5 2935.4L1909 2937.2L1909.5 2939.1L1910 2941L1910.5 2943L1911 2945L1911.5 2947.1L1912 2949.1L1912.5 2951.2L1913 2953.3L1913.5 2955.3L1914 2957.4L1914.5 2959.4L1915 2961.5L1915.5 2963.6L1916 2965.7L1916.5 2967.8L1917 2969.8L1917.5 2971.7L1918 2973.5L1918.5 2975.1L1919 2976.6L1919.5 2978.1L1920 2979.6L1920.5 2981L1921 2982.3L1921.5 2983.6L1922 2984.7L1922.5 2985.8L1923 2986.7L1923.5 2987.6L1924 2988.5L1924.5 2989.3L1925 2990.2L1925.5 2991L1926 2991.9L1926.5 2992.6L1927 2993.3L1927.5 2994L1928 2994.5L1928.5 2995L1929 2995.3L1929.5 2995.6L1930 2995.7L1930.5 2995.7L1931 2995.6L1931.5 2995.4L1932 2995.1L1932.5 2994.8L1933 2994.4L1933.5 2994L1934 2993.4L1934.5 2992.9L1935 2992.3L1935.5 2991.6L1936 2991L1936.5 2990.3L1937 2989.5L1937.5 2988.8L1938 2988L1938.5 2987.2L1939 2986.4L1939.5 2985.5L1940 2984.4L1940.5 2983.2L1941 2981.9L1941.5 2980.5L1942 2979L1942.5 2977.4L1943 2975.8L1943.5 2974.1L1944 2972.4L1944.5 2970.6L1945 2968.9L1945.5 2967L1946 2964.9L1946.5 2962.8L1947 2960.5L1947.5 2958.1L1948 2955.7L1948.5 2953.2L1949 2950.7L1949.5 2948.2L1950 2945.8L1950.5 2943.4L1951 2940.9L1951.5 2938.5L1952 2936L1952.5 2933.5L1953 2931L1953.5 2928.5L1954 2925.9L1954.5 2923.4L1955 2920.8L1955.5 2918.3L1956 2915.7L1956.5 2913.1L1957 2910.6L1957.5 2908L1958 2905.3L1958.5 2902.6L1959 2899.9L1959.5 2897.1L1960 2894.1L1960.5 2891L1961 2887.9L1961.5 2884.9L1962 2881.8L1962.5 2878.9L1963 2876.1L1963.5 2873.4L1964 2870.7L1964.5 2868.1L1965 2865.5L1965.5 2862.9L1966 2860.4L1966.5 2857.8L1967 2855.3L1967.5 2852.6L1968 2849.9L1968.5 2847.2L1969 2844.5L1969.5 2841.8L1970 2839.2L1970.5 2836.8L1971 2834.5L1971.5 2832.4L1972 2830.5L1972.5 2828.8L1973 2827.2L1973.5 2825.7L1974 2824.3L1974.5 2822.9L1975 2821.6L1975.5 2820.4L1976 2819.1L1976.5 2817.9L1977 2816.6L1977.5 2815.4L1978 2814.1L1978.5 2812.7L1979 2811.3L1979.5 2810L1980 2808.7L1980.5 2807.4L1981 2806.1L1981.5 2804.8L1982 2803.5L1982.5 2802.1L1983 2800.7L1983.5 2799.2L1984 2797.5L1984.5 2795.7L1985 2793.7L1985.5 2791.6L1986 2789.2L1986.5 2786.5L1987 2783.4L1987.5 2779.9L1988 2776L1988.5 2771.3L1989 2765.1L1989.5 2757.9L1990 2750.4L1990.5 2742.5L1991 2733.8L1991.5 2725.2L1992 2717.4L1992.5 2710.9L1993 2704.9L1993.5 2699.2L1994 2693.2L1994.5 2686.4L1995 2678.3L1995.5 2669.4L1996 2660.6L1996.5 2653L1997 2646.1L1997.5 2639.5L1998 2633.3L1998.5 2627.7L1999 2622.6L1999.5 2617.6L2000 2612.6L2000.5 2608L2001 2603.9L2001.5 2600.8L2002 2598.9L2002.5 2597.6L2003 2596.4L2003.5 2595.3L2004 2594.3L2004.5 2593.6L2005 2593L2005.5 2592.6L2006 2592.5L2006.5 2592.7L2007 2593.3L2007.5 2594.3L2008 2595.7L2008.5 2597.4L2009 2599.5L2009.5 2601.8L2010 2604.3L2010.5 2608.1L2011 2614.8L2011.5 2623.1L2012 2631.5L2012.5 2638.9L2013 2646L2013.5 2653.1L2014 2660.3L2014.5 2667.6L2015 2674.8L2015.5 2682L2016 2689.4L2016.5 2697.1L2017 2705.5L2017.5 2715.1L2018 2726L2018.5 2736.8L2019 2746.2L2019.5 2754.3L2020 2761.7L2020.5 2768.8L2021 2775.8L2021.5 2783L2022 2790.7L2022.5 2798.5L2023 2806.5L2023.5 2814.6L2024 2822.9L2024.5 2832.4L2025 2842.1L2025.5 2851L2026 2857.7L2026.5 2862.5L2027 2866.7L2027.5 2870.4L2028 2873.7L2028.5 2876.7L2029 2879.5L2029.5 2882.3L2030 2885L2030.5 2887.8L2031 2890.7L2031.5 2893.6L2032 2896.5L2032.5 2899.3L2033 2902L2033.5 2904.6L2034 2907.2L2034.5 2909.6L2035 2911.8L2035.5 2913.9L2036 2915.8L2036.5 2917.6L2037 2919.3L2037.5 2920.9L2038 2922.4L2038.5 2923.9L2039 2925.3L2039.5 2926.7L2040 2928.1L2040.5 2929.6L2041 2931L2041.5 2932.6L2042 2934.2L2042.5 2935.9L2043 2937.7L2043.5 2939.6L2044 2941.5L2044.5 2943.5L2045 2945.5L2045.5 2947.6L2046 2949.7L2046.5 2951.7L2047 2953.8L2047.5 2955.9L2048 2957.9L2048.5 2959.9L2049 2962L2049.5 2964.2L2050 2966.3L2050.5 2968.4L2051 2970.3L2051.5 2972.2L2052 2973.9L2052.5 2975.5L2053 2977L2053.5 2978.5L2054 2980L2054.5 2981.3L2055 2982.6L2055.5 2983.9L2056 2985L2056.5 2986L2057 2986.9L2057.5 2987.8L2058 2988.7L2058.5 2989.6L2059 2990.4L2059.5 2991.3L2060 2992.1L2060.5 2992.8L2061 2993.5L2061.5 2994.1L2062 2994.6L2062.5 2995.1L2063 2995.4L2063.5 2995.6L2064 2995.7L2064.5 2995.7L2065 2995.5L2065.5 2995.3L2066 2995.1L2066.5 2994.7L2067 2994.3L2067.5 2993.8L2068 2993.3L2068.5 2992.7L2069 2992.1L2069.5 2991.5L2070 2990.8L2070.5 2990.1L2071 2989.3L2071.5 2988.6L2072 2987.8L2072.5 2987L2073 2986.2L2073.5 2985.2L2074 2984.1L2074.5 2982.9L2075 2981.6L2075.5 2980.1L2076 2978.6L2076.5 2977L2077 2975.4L2077.5 2973.7L2078 2971.9L2078.5 2970.2L2079 2968.4L2079.5 2966.5L2080 2964.4" fill="none" stroke="#ef3e42" stroke-width="7.4" stroke-linejoin="round"/>
</g>
<rect x="270" y="2349.5" width="1810" height="843.5" fill="none" stroke="#000" stroke-width="7.6"/>
<path d="M273.8 3052.4h5.5M2076.2 3052.4h-5.5M273.8 2911.8h14.6M2076.2 2911.8h-14.6M273.8 2771.2h5.5M2076.2 2771.2h-5.5M273.8 2630.7h14.6M2076.2 2630.7h-14.6M273.8 2490.1h5.5M2076.2 2490.1h-5.5M451 3189.2v-14.6M451 2353.3v14.6M632 3189.2v-6M632 2353.3v6M813 3189.2v-14.6M813 2353.3v14.6M994 3189.2v-6M994 2353.3v6M1175 3189.2v-14.6M1175 2353.3v14.6M1356 3189.2v-6M1356 2353.3v6M1537 3189.2v-14.6M1537 2353.3v14.6M1718 3189.2v-6M1718 2353.3v6M1899 3189.2v-14.6M1899 2353.3v14.6" stroke="#000" stroke-width="7.6" fill="none"/>
<text transform="translate(166.01 2369.99) scale(0.96 1)" font-size="51.87" fill="#000" ><tspan x="0" font-weight="bold" font-style="normal">0.04</tspan></text>
<text transform="translate(164.59 2641.09) scale(0.95 1)" font-size="52.46" fill="#000" ><tspan x="0" font-weight="bold" font-style="normal">0.02</tspan></text>
<text transform="translate(165.99 2929.29) scale(0.97 1)" font-size="51.87" fill="#000" ><tspan x="0" font-weight="bold" font-style="normal">0.00</tspan></text>
<text transform="translate(146.5 3205.69) scale(0.95 1)" font-size="52.02" fill="#000" ><tspan x="0" font-weight="bold" font-style="normal">−0.02</tspan></text>
<text transform="translate(371.3 3251.99) scale(0.97 1)" font-size="52.16" fill="#000" ><tspan x="0" font-weight="bold" font-style="normal">3,000</tspan></text>
<text transform="translate(757.6 3251.99) scale(0.97 1)" font-size="52.16" fill="#000" ><tspan x="0" font-weight="bold" font-style="normal">3,200</tspan></text>
<text transform="translate(1118.6 3251.99) scale(0.97 1)" font-size="52.16" fill="#000" ><tspan x="0" font-weight="bold" font-style="normal">3,400</tspan></text>
<text transform="translate(1479.89 3251.99) scale(0.97 1)" font-size="52.16" fill="#000" ><tspan x="0" font-weight="bold" font-style="normal">3,600</tspan></text>
<text transform="translate(1854 3251.99) scale(0.97 1)" font-size="52.16" fill="#000" ><tspan x="0" font-weight="bold" font-style="normal">3,800</tspan></text>
<text transform="translate(1163.29 3346.53) scale(0.93 1)" font-size="68.69" fill="#000" ><tspan x="0" font-weight="bold" font-style="italic">τ</tspan></text>
<text transform="translate(121.1 2752.85) rotate(-90) scale(1.16 1)" font-size="61.09" fill="#000" ><tspan x="0" font-weight="normal" font-style="italic">T</tspan></text>
<path d="M1672.1 2452.1h28.9M1737.9 2452.1h29" stroke="#505050" stroke-width="7.1"/>
<path d="M1672.1 2531H1772.1" stroke="#ef3e42" stroke-width="7.3"/>
<text transform="translate(1785.99 2470) scale(0.97 1)" font-size="55.13" fill="#000" ><tspan x="0" font-weight="bold" font-style="normal">P6*</tspan></text>
<text transform="translate(1785.97 2549.3) scale(0.99 1)" font-size="54.52" fill="#000" ><tspan x="0" font-weight="bold" font-style="normal">P6</tspan></text>
</g>
</svg></body></html>
